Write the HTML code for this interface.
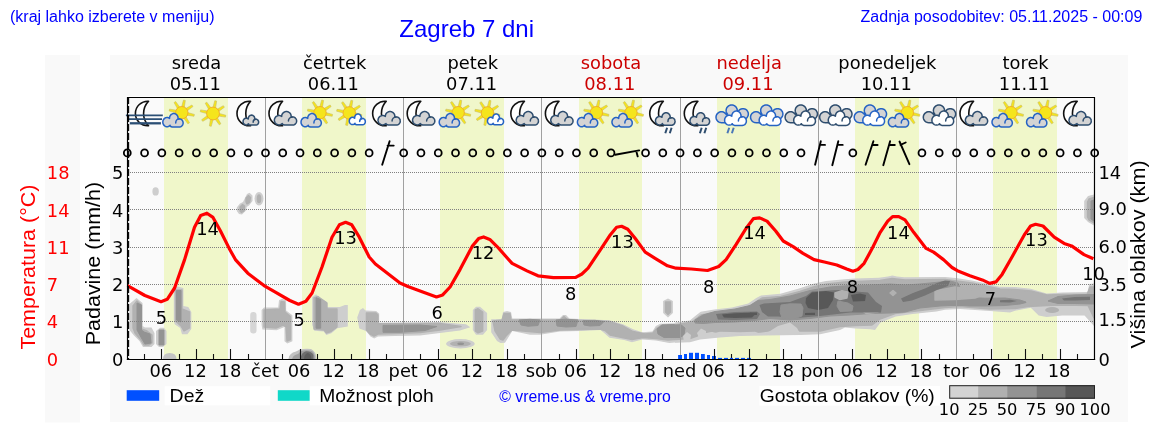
<!DOCTYPE html>
<html><head><meta charset="utf-8"><title>Zagreb 7 dni</title>
<style>
html,body{margin:0;padding:0;background:#fff;width:1152px;height:443px;overflow:hidden}
svg{display:block}
.dj{font-family:"DejaVu Sans",sans-serif;font-size:17px}
.ls{font-family:"Liberation Sans",Arial,sans-serif}
</style></head><body>
<svg width="1152" height="443" viewBox="0 0 1152 443">
<defs><filter id="bl" x="-5%" y="-5%" width="110%" height="110%"><feGaussianBlur stdDeviation="0.45"/></filter></defs>
<g id="bg">
<rect x="45" y="55" width="35" height="367.5" fill="#f9f9f9"/>
<rect x="110" y="55" width="1018" height="367" fill="#f9f9f9"/>
<rect x="126.5" y="96.5" width="969" height="263.5" fill="none" stroke="#fff" stroke-width="1"/>
<rect x="127" y="97" width="967.5" height="262" fill="#fafafa"/>
<rect x="164" y="97.5" width="64" height="261.5" fill="#f0f7ca"/>
<rect x="302" y="97.5" width="64" height="261.5" fill="#f0f7ca"/>
<rect x="440" y="97.5" width="64" height="261.5" fill="#f0f7ca"/>
<rect x="579" y="97.5" width="63" height="261.5" fill="#f0f7ca"/>
<rect x="717" y="97.5" width="63" height="261.5" fill="#f0f7ca"/>
<rect x="855" y="97.5" width="64" height="261.5" fill="#f0f7ca"/>
<rect x="993" y="97.5" width="64" height="261.5" fill="#f0f7ca"/>
</g>
<g id="blobs" filter="url(#bl)">
<ellipse cx="155.6" cy="191.4" rx="3.2" ry="4.2" fill="#cecece"/>
<path d="M236.8,207.5 L240.0,203.5 L243.0,202.0 L247.0,194.0 L249.5,192.8 L252.5,195.5 L252.5,201.0 L249.0,205.5 L246.5,207.0 L246.5,210.0 L242.0,214.6 L239.0,214.0 L236.8,211.0 Z" fill="#cecece"/>
<path d="M240.0,207.0 L242.5,204.5 L244.5,206.0 L244.0,211.0 L241.5,212.5 L240.0,211.0 Z" fill="#b1b1b1" stroke="#b1b1b1" stroke-width="1.4" stroke-linejoin="round"/>
<path d="M246.0,198.0 L248.5,195.5 L250.5,197.5 L249.5,202.5 L247.0,204.0 L246.0,202.0 Z" fill="#b1b1b1" stroke="#b1b1b1" stroke-width="1.4" stroke-linejoin="round"/>
<ellipse cx="259" cy="198.7" rx="4.5" ry="6.8" fill="#cecece"/>
<ellipse cx="259" cy="198.7" rx="2.3" ry="4.5" fill="#b1b1b1"/>
<path d="M129.5,304.0 L136.5,298.0 L142.5,303.0 L142.5,326.0 L145.0,327.5 L151.5,327.5 L154.5,333.0 L154.5,344.0 L151.5,347.0 L143.0,347.0 L139.5,341.0 L134.0,335.5 L129.5,330.0 Z" fill="#cecece"/>
<path d="M133.0,306.0 L137.0,301.0 L141.5,305.0 L141.5,329.0 L147.0,331.0 L152.0,335.0 L152.0,343.0 L149.0,345.0 L144.0,345.0 L141.0,340.0 L135.0,333.0 L133.0,328.0 Z" fill="#b1b1b1" stroke="#b1b1b1" stroke-width="1.4" stroke-linejoin="round"/>
<path d="M137.0,303.0 L141.5,305.0 L141.5,330.0 L144.0,332.0 L150.0,334.0 L151.0,343.0 L145.0,344.0 L142.0,339.0 L137.0,330.0 Z" fill="#939393" stroke="#939393" stroke-width="1.0" stroke-linejoin="round"/>
<path d="M156.0,331.0 L160.0,327.8 L164.0,327.8 L166.5,331.0 L166.5,344.0 L163.0,347.0 L159.0,347.0 L156.0,344.0 Z" fill="#cecece"/>
<path d="M159.0,330.0 L164.0,330.0 L164.0,345.0 L159.0,345.0 Z" fill="#939393" stroke="#939393" stroke-width="1.0" stroke-linejoin="round"/>
<path d="M173.8,289.0 L176.5,286.3 L183.4,288.0 L183.4,306.0 L188.3,307.0 L191.3,312.0 L191.3,329.0 L187.4,334.2 L182.0,334.2 L180.2,328.0 L174.7,324.2 L173.8,320.0 Z" fill="#cecece"/>
<path d="M175.5,290.0 L182.0,290.0 L182.0,309.0 L189.5,312.0 L189.5,328.0 L184.0,331.0 L181.0,326.0 L175.5,321.0 Z" fill="#b1b1b1" stroke="#b1b1b1" stroke-width="1.4" stroke-linejoin="round"/>
<path d="M176.5,290.5 L181.0,290.5 L181.0,322.0 L176.5,320.0 Z" fill="#939393" stroke="#939393" stroke-width="1.0" stroke-linejoin="round"/>
<path d="M163,359 Q163,353 169.7,353 Q176.5,353 176.5,359 Z" fill="#c4c4c4"/>
<rect x="250.2" y="312.1" width="6.3" height="21.3" rx="3" fill="#d6d6d6"/>
<path d="M261.6,310.0 L264.0,307.4 L278.2,307.4 L279.0,300.3 L282.1,298.7 L286.1,300.3 L286.1,310.5 L292.4,315.3 L292.4,341.3 L287.3,343.4 L284.5,341.3 L284.5,327.1 L276.6,330.3 L262.4,329.5 L261.6,325.0 Z" fill="#cecece"/>
<path d="M264.0,310.0 L280.0,309.0 L281.0,301.5 L284.5,302.0 L285.0,312.0 L290.5,316.5 L290.5,339.5 L287.0,341.0 L286.0,327.0 L283.0,325.0 L276.0,328.0 L264.0,327.0 Z" fill="#b1b1b1" stroke="#b1b1b1" stroke-width="1.4" stroke-linejoin="round"/>
<path d="M288.4,359 Q289,353 296,351.5 L300,349.5 Q305,348.3 311,349 Q316,351 316.5,359 Z" fill="#c2c2c2"/>
<path d="M292,359 Q293,355 298,354 L301,351 Q307,349.5 312,351 Q315,353 315,359 Z" fill="#a0a0a0"/>
<path d="M300.5,359 Q301,352.5 306,351.2 Q312,351.5 313.5,355 L313.5,359 Z" fill="#6e6e6e"/>
<path d="M304,359 Q304.5,354 307.5,353 Q311,353.5 311.5,359 Z" fill="#5c5c5c"/>
<path d="M312.2,296.9 L316.1,294.3 L318.6,296.9 L327.1,302.0 L327.1,307.0 L339.8,307.0 L344.9,305.0 L347.8,305.0 L347.8,326.5 L337.3,328.2 L331.4,333.3 L326.3,335.0 L323.7,331.6 L314.4,330.8 L312.2,325.0 Z" fill="#cecece"/>
<path d="M314.0,298.0 L318.0,296.5 L327.0,303.0 L327.0,309.0 L337.0,309.0 L337.0,327.0 L331.0,331.5 L326.5,333.0 L324.0,330.0 L314.0,329.0 Z" fill="#b1b1b1" stroke="#b1b1b1" stroke-width="1.4" stroke-linejoin="round"/>
<path d="M316.1,297.7 L320.7,299.5 L320.7,328.2 L316.1,328.2 Z" fill="#939393" stroke="#939393" stroke-width="1.0" stroke-linejoin="round"/>
<path d="M357.2,317.4 L359.9,309.9 L363.0,308.0 L365.5,310.5 L376.1,311.1 L379.2,313.6 L379.2,323.0 L400.0,322.8 L440.0,322.0 L466.0,324.2 L470.3,327.3 L460.0,330.4 L440.0,332.9 L420.0,335.4 L395.0,336.0 L378.0,336.6 L374.2,338.5 L370.5,336.6 L366.1,331.0 L359.3,328.5 Z" fill="#cecece"/>
<path d="M366.4,313.0 L376.0,313.0 L378.0,315.0 L378.0,323.5 L400.0,323.5 L440.0,323.5 L461.0,326.5 L440.0,330.0 L420.0,332.5 L395.0,333.5 L378.0,334.0 L374.0,336.0 L370.0,334.0 L366.4,330.0 Z" fill="#b1b1b1" stroke="#b1b1b1" stroke-width="1.4" stroke-linejoin="round"/>
<path d="M383.0,325.4 L420.0,325.0 L437.0,326.5 L425.0,330.5 L400.0,332.3 L383.0,332.3 Z" fill="#939393" stroke="#939393" stroke-width="1.0" stroke-linejoin="round"/>
<ellipse cx="460.4" cy="343.7" rx="14.3" ry="4.7" fill="#cecece"/>
<ellipse cx="460.4" cy="343.8" rx="10.5" ry="2.8" fill="#b1b1b1"/>
<ellipse cx="460.7" cy="343.8" rx="3.4" ry="1.3" fill="#939393"/>
<path d="M472.8,310.0 L476.0,306.8 L480.0,306.8 L487.1,313.0 L487.1,330.0 L483.0,334.8 L476.0,334.8 L472.8,330.0 Z" fill="#cecece"/>
<path d="M475.3,310.0 L478.0,308.7 L482.7,312.0 L482.7,331.0 L478.0,332.9 L475.3,331.0 Z" fill="#b1b1b1" stroke="#b1b1b1" stroke-width="1.4" stroke-linejoin="round"/>
<path d="M491.2,319.2 L501.7,319.2 L503.0,312.0 L507.0,311.1 L511.0,312.0 L512.3,318.6 L559.5,318.6 L563.0,315.0 L566.0,314.9 L569.4,318.6 L609.5,320.3 L623.0,324.3 L633.2,329.3 L642.2,332.2 L652.4,331.6 L655.8,326.0 L660.3,323.7 L680.0,323.0 L680.0,342.0 L669.3,342.9 L655.8,340.6 L642.2,339.5 L632.0,342.3 L624.2,340.0 L609.5,337.8 L603.9,332.7 L600.5,330.0 L580.0,331.0 L560.0,331.6 L540.0,334.8 L530.0,334.8 L512.3,331.0 L505.0,342.8 L500.5,343.0 L497.0,341.0 L491.2,332.3 Z" fill="#cecece"/>
<path d="M493.0,321.0 L502.0,320.0 L504.0,313.5 L510.0,313.5 L511.0,320.0 L560.0,320.0 L564.0,316.5 L568.0,320.0 L609.0,321.5 L623.0,326.0 L633.0,331.5 L645.0,334.0 L653.0,333.0 L657.0,328.0 L662.0,325.0 L680.0,325.0 L680.0,339.0 L668.0,340.0 L656.0,338.5 L643.0,337.5 L632.0,339.5 L622.0,337.5 L610.0,335.0 L605.0,330.5 L600.0,329.0 L560.0,330.0 L540.0,332.5 L512.0,330.0 L506.0,336.0 L503.0,340.0 L500.0,339.0 L495.0,331.0 Z" fill="#b1b1b1" stroke="#b1b1b1" stroke-width="1.4" stroke-linejoin="round"/>
<path d="M519.0,320.0 L530.0,319.3 L540.0,320.0 L538.0,325.5 L528.0,326.2 L521.0,325.0 Z" fill="#939393" stroke="#939393" stroke-width="1.0" stroke-linejoin="round"/>
<path d="M556.0,320.0 L566.0,319.2 L578.0,320.0 L576.0,326.5 L566.0,327.0 L557.0,326.0 Z" fill="#939393" stroke="#939393" stroke-width="1.0" stroke-linejoin="round"/>
<path d="M583.0,320.5 L595.0,320.3 L604.0,321.5 L600.0,325.5 L590.0,326.0 L584.0,325.0 Z" fill="#939393" stroke="#939393" stroke-width="1.0" stroke-linejoin="round"/>
<path d="M657.0,329.0 L662.0,325.0 L681.0,324.5 L685.0,328.0 L684.0,335.0 L680.0,337.5 L664.0,337.5 L658.0,334.0 Z" fill="#939393" stroke="#939393" stroke-width="1.0" stroke-linejoin="round"/>
<path d="M663.1,301.0 L668.0,298.5 L672.9,301.0 L672.9,313.0 L668.0,317.5 L663.1,313.0 Z" fill="#cecece"/>
<path d="M665.5,302.0 L670.5,302.0 L670.5,312.0 L668.0,314.5 L665.5,312.0 Z" fill="#b1b1b1" stroke="#b1b1b1" stroke-width="1.4" stroke-linejoin="round"/>
<path d="M675.0,322.5 L689.9,320.5 L694.0,317.1 L700.7,311.7 L714.3,309.6 L731.9,307.6 L748.2,303.6 L756.3,298.1 L761.0,295.4 L780.4,293.7 L799.0,288.6 L814.2,283.5 L826.0,281.0 L844.7,279.3 L855.0,278.5 L878.8,277.7 L888.0,276.5 L892.4,275.5 L897.0,276.5 L904.2,277.2 L945.0,276.9 L955.8,277.9 L972.0,280.6 L988.3,283.9 L999.1,286.7 L1015.0,287.1 L1030.8,288.7 L1046.6,293.4 L1062.4,292.6 L1087.7,291.9 L1089.2,284.0 L1094.0,283.5 L1094.0,326.0 L1084.5,315.6 L1062.4,315.6 L1046.6,317.1 L1038.7,315.6 L1030.8,307.7 L1015.0,310.8 L1010.0,312.4 L990.0,311.0 L960.0,309.0 L945.0,309.7 L936.4,311.5 L912.7,314.0 L895.8,316.6 L880.5,322.5 L875.0,330.0 L870.4,329.3 L855.0,328.4 L845.0,327.6 L840.0,330.0 L820.0,334.3 L800.0,335.1 L765.0,335.4 L740.0,336.0 L720.0,337.4 L700.0,339.5 L690.0,342.2 L675.0,342.8 Z" fill="#cecece"/>
<path d="M675.0,325.0 L692.0,322.0 L701.0,315.0 L715.0,312.5 L732.0,310.5 L749.0,306.5 L757.0,301.0 L762.0,298.0 L781.0,296.5 L800.0,291.5 L815.0,286.5 L827.0,284.0 L845.0,282.0 L880.0,280.5 L892.0,278.5 L905.0,280.0 L945.0,279.5 L972.0,283.0 L988.0,286.5 L1000.0,289.0 L1015.0,289.5 L1031.0,291.0 L1047.0,295.0 L1063.0,294.5 L1087.0,294.5 L1090.0,287.0 L1094.0,287.0 L1094.0,318.0 L1088.0,305.5 L1063.0,305.0 L1047.0,305.5 L1038.0,306.0 L1028.0,306.5 L1015.0,308.5 L990.0,309.0 L960.0,306.5 L945.0,307.5 L912.0,311.5 L895.0,313.5 L880.0,319.0 L872.0,325.0 L855.0,325.5 L840.0,326.5 L820.0,331.0 L800.0,331.0 L790.0,326.0 L775.0,330.0 L760.0,332.0 L740.0,333.5 L722.0,334.0 L712.0,331.0 L703.0,333.0 L697.0,336.0 L690.0,338.5 L675.0,339.5 Z" fill="#b1b1b1" stroke="#b1b1b1" stroke-width="1.4" stroke-linejoin="round"/>
<path d="M667.0,325.3 L681.0,324.8 L685.0,328.0 L684.0,335.0 L680.0,337.5 L667.0,337.5 Z" fill="#939393" stroke="#939393" stroke-width="1.0" stroke-linejoin="round"/>
<path d="M695.0,320.0 L703.0,315.0 L715.0,311.5 L735.0,309.0 L750.0,305.5 L758.0,300.5 L770.0,299.5 L790.0,296.0 L810.0,290.5 L830.0,287.0 L850.0,285.5 L870.0,285.0 L890.0,284.0 L905.0,285.0 L920.0,284.0 L940.0,282.0 L950.0,281.0 L958.0,283.0 L962.0,292.0 L970.0,297.5 L985.0,298.2 L1005.0,298.0 L1020.0,300.0 L1026.0,302.0 L1026.0,302.5 L1020.0,304.0 L1005.0,305.5 L985.0,306.0 L970.0,306.0 L962.0,305.5 L958.0,305.5 L950.0,305.5 L940.0,306.0 L920.0,308.0 L905.0,312.0 L890.0,313.0 L870.0,313.5 L850.0,315.0 L830.0,316.0 L810.0,318.5 L790.0,320.0 L770.0,318.5 L758.0,320.0 L750.0,321.0 L735.0,322.0 L715.0,322.5 L703.0,323.5 L695.0,323.0 Z" fill="#939393" stroke="#939393" stroke-width="1.0" stroke-linejoin="round"/>
<path d="M781.0,305.0 L790.0,303.5 L800.0,304.0 L803.0,309.0 L800.0,316.0 L790.0,317.5 L782.0,314.0 Z" fill="#b1b1b1" stroke="#b1b1b1" stroke-width="1.4" stroke-linejoin="round"/>
<path d="M860.0,306.0 L870.0,304.5 L880.0,307.0 L878.0,312.0 L866.0,313.5 L861.0,310.0 Z" fill="#b1b1b1" stroke="#b1b1b1" stroke-width="1.4" stroke-linejoin="round"/>
<path d="M893.0,290.5 L896.0,293.0 L893.0,295.5 L890.0,293.0 Z" fill="#b1b1b1" stroke="#b1b1b1" stroke-width="1.4" stroke-linejoin="round"/>
<path d="M935.0,291.0 L955.0,287.0 L975.0,290.0 L985.0,294.0 L975.0,298.0 L955.0,299.5 L935.0,300.0 Z" fill="#b1b1b1" stroke="#b1b1b1" stroke-width="1.4" stroke-linejoin="round"/>
<path d="M766.0,333.5 L778.0,326.0 L790.0,322.5 L797.0,328.0 L800.0,333.5 Z" fill="#cecece"/>
<path d="M683.0,336.0 L687.0,332.0 L691.0,335.0 L690.0,342.0 L684.0,342.0 Z" fill="#cecece"/>
<path d="M697.0,333.0 L701.0,328.5 L706.0,331.0 L706.0,337.0 L699.0,338.0 Z" fill="#cecece"/>
<path d="M712.0,333.5 L720.0,331.8 L740.0,332.2 L755.0,331.8 L760.0,333.5 L740.0,334.8 L720.0,335.2 Z" fill="#cecece"/>
<path d="M716.0,314.0 L735.0,312.0 L757.0,311.5 L760.0,314.0 L757.0,319.0 L735.0,320.0 L718.0,319.5 Z" fill="#747474"/>
<path d="M759.5,305.0 L764.0,303.5 L790.0,302.0 L806.0,296.0 L812.0,291.5 L838.0,290.0 L868.0,292.5 L876.0,302.0 L882.0,306.0 L881.0,312.5 L850.0,312.5 L820.0,316.0 L796.0,318.0 L778.0,316.5 L768.0,316.5 L762.0,312.0 Z" fill="#747474"/>
<path d="M781.0,305.0 L790.0,303.8 L801.0,304.0 L803.0,308.0 L802.0,316.0 L795.0,318.5 L782.0,318.0 L780.0,312.0 Z" fill="#939393" stroke="#939393" stroke-width="1.0" stroke-linejoin="round"/>
<path d="M838.0,301.0 L848.0,303.0 L853.0,306.0 L852.0,311.0 L840.0,311.5 L837.0,306.0 Z" fill="#939393" stroke="#939393" stroke-width="1.0" stroke-linejoin="round"/>
<path d="M835.0,293.0 L842.0,290.6 L848.0,292.0 L847.0,298.0 L840.0,299.5 L835.0,297.0 Z" fill="#b1b1b1" stroke="#b1b1b1" stroke-width="1.4" stroke-linejoin="round"/>
<path d="M901.0,298.5 L913.0,293.0 L925.0,288.5 L937.0,283.0 L945.0,280.5 L950.0,281.0 L948.0,286.0 L937.0,290.0 L925.0,295.5 L912.0,300.5 L903.0,302.0 Z" fill="#747474"/>
<path d="M1048.0,301.0 L1058.0,296.5 L1075.0,295.0 L1094.0,294.5 L1094.0,304.0 L1075.0,303.5 L1058.0,303.5 Z" fill="#939393" stroke="#939393" stroke-width="1.0" stroke-linejoin="round"/>
<path d="M1062.0,298.5 L1075.0,297.0 L1090.0,296.8 L1090.0,300.0 L1075.0,300.5 L1064.0,300.5 Z" fill="#747474"/>
<path d="M1000.0,300.2 L1010.0,299.8 L1017.0,301.0 L1010.0,302.5 L1000.0,302.3 Z" fill="#747474"/>
<path d="M722.0,314.5 L735.0,313.2 L750.0,312.8 L756.0,313.5 L752.0,317.5 L735.0,318.0 L724.0,317.5 Z" fill="#585858"/>
<path d="M806.0,298.0 L812.0,292.5 L826.0,291.0 L834.0,292.5 L833.0,300.0 L828.0,308.0 L818.0,310.0 L808.0,308.0 L805.5,303.0 Z" fill="#585858"/>
<path d="M851.0,295.0 L860.0,293.5 L866.0,295.0 L865.0,301.0 L853.0,301.5 Z" fill="#585858"/>
<path d="M805.0,313.0 L815.0,312.8 L815.0,315.0 L805.0,315.0 Z" fill="#585858"/>
<path d="M750.0,312.5 L757.0,312.5 L757.0,315.0 L750.0,315.0 Z" fill="#585858"/>
<ellipse cx="1052.1" cy="310" rx="7" ry="3" fill="#b1b1b1"/>
<path d="M1088.0,196.0 L1094.0,194.5 L1094.0,225.5 L1088.0,222.0 L1084.2,218.0 L1084.2,201.0 Z" fill="#cecece"/>
<path d="M1089.0,199.0 L1094.0,197.5 L1094.0,223.0 L1089.0,220.0 L1087.5,217.0 L1087.5,202.0 Z" fill="#b1b1b1" stroke="#b1b1b1" stroke-width="1.4" stroke-linejoin="round"/>
<path d="M1091.0,201.0 L1094.0,200.0 L1094.0,221.0 L1091.0,219.0 Z" fill="#939393" stroke="#939393" stroke-width="1.0" stroke-linejoin="round"/>
</g>
<g id="grid">
<line x1="128" y1="321.5" x2="1094" y2="321.5" stroke="#808080" stroke-width="1" stroke-dasharray="1 1"/>
<line x1="128" y1="284.5" x2="1094" y2="284.5" stroke="#808080" stroke-width="1" stroke-dasharray="1 1"/>
<line x1="128" y1="247.5" x2="1094" y2="247.5" stroke="#808080" stroke-width="1" stroke-dasharray="1 1"/>
<line x1="128" y1="209.5" x2="1094" y2="209.5" stroke="#808080" stroke-width="1" stroke-dasharray="1 1"/>
<line x1="128" y1="172.5" x2="1094" y2="172.5" stroke="#808080" stroke-width="1" stroke-dasharray="1 1"/>
<line x1="265.5" y1="97" x2="265.5" y2="359" stroke="#a0a0a0" stroke-width="1"/>
<line x1="403.5" y1="97" x2="403.5" y2="359" stroke="#a0a0a0" stroke-width="1"/>
<line x1="541.5" y1="97" x2="541.5" y2="359" stroke="#a0a0a0" stroke-width="1"/>
<line x1="680.5" y1="97" x2="680.5" y2="359" stroke="#a0a0a0" stroke-width="1"/>
<line x1="818.5" y1="97" x2="818.5" y2="359" stroke="#a0a0a0" stroke-width="1"/>
<line x1="956.5" y1="97" x2="956.5" y2="359" stroke="#a0a0a0" stroke-width="1"/>
</g>
<g id="minor">
<line x1="144.5" y1="354" x2="144.5" y2="359" stroke="#111" stroke-width="1.1"/>
<line x1="179.5" y1="354" x2="179.5" y2="359" stroke="#111" stroke-width="1.1"/>
<line x1="213.5" y1="354" x2="213.5" y2="359" stroke="#111" stroke-width="1.1"/>
<line x1="248.5" y1="354" x2="248.5" y2="359" stroke="#111" stroke-width="1.1"/>
<line x1="282.5" y1="354" x2="282.5" y2="359" stroke="#111" stroke-width="1.1"/>
<line x1="317.5" y1="354" x2="317.5" y2="359" stroke="#111" stroke-width="1.1"/>
<line x1="351.5" y1="354" x2="351.5" y2="359" stroke="#111" stroke-width="1.1"/>
<line x1="386.5" y1="354" x2="386.5" y2="359" stroke="#111" stroke-width="1.1"/>
<line x1="420.5" y1="354" x2="420.5" y2="359" stroke="#111" stroke-width="1.1"/>
<line x1="455.5" y1="354" x2="455.5" y2="359" stroke="#111" stroke-width="1.1"/>
<line x1="490.5" y1="354" x2="490.5" y2="359" stroke="#111" stroke-width="1.1"/>
<line x1="524.5" y1="354" x2="524.5" y2="359" stroke="#111" stroke-width="1.1"/>
<line x1="559.5" y1="354" x2="559.5" y2="359" stroke="#111" stroke-width="1.1"/>
<line x1="593.5" y1="354" x2="593.5" y2="359" stroke="#111" stroke-width="1.1"/>
<line x1="628.5" y1="354" x2="628.5" y2="359" stroke="#111" stroke-width="1.1"/>
<line x1="662.5" y1="354" x2="662.5" y2="359" stroke="#111" stroke-width="1.1"/>
<line x1="697.5" y1="354" x2="697.5" y2="359" stroke="#111" stroke-width="1.1"/>
<line x1="731.5" y1="354" x2="731.5" y2="359" stroke="#111" stroke-width="1.1"/>
<line x1="766.5" y1="354" x2="766.5" y2="359" stroke="#111" stroke-width="1.1"/>
<line x1="801.5" y1="354" x2="801.5" y2="359" stroke="#111" stroke-width="1.1"/>
<line x1="835.5" y1="354" x2="835.5" y2="359" stroke="#111" stroke-width="1.1"/>
<line x1="870.5" y1="354" x2="870.5" y2="359" stroke="#111" stroke-width="1.1"/>
<line x1="904.5" y1="354" x2="904.5" y2="359" stroke="#111" stroke-width="1.1"/>
<line x1="939.5" y1="354" x2="939.5" y2="359" stroke="#111" stroke-width="1.1"/>
<line x1="973.5" y1="354" x2="973.5" y2="359" stroke="#111" stroke-width="1.1"/>
<line x1="1008.5" y1="354" x2="1008.5" y2="359" stroke="#111" stroke-width="1.1"/>
<line x1="1042.5" y1="354" x2="1042.5" y2="359" stroke="#111" stroke-width="1.1"/>
<line x1="1077.5" y1="354" x2="1077.5" y2="359" stroke="#111" stroke-width="1.1"/>
</g>
<g id="bars">
<rect x="678.1" y="355" width="3.9" height="4.0" fill="#0050ff"/>
<rect x="684" y="354" width="3.0" height="5.0" fill="#0050ff"/>
<rect x="689" y="352.8" width="4.0" height="6.2" fill="#0050ff"/>
<rect x="695" y="352.8" width="4.0" height="6.2" fill="#0050ff"/>
<rect x="701" y="354" width="3.8" height="5.0" fill="#0050ff"/>
<rect x="707" y="355" width="3.0" height="4.0" fill="#0050ff"/>
<rect x="712" y="356" width="4.0" height="3.0" fill="#0050ff"/>
<rect x="718" y="357.9" width="4.0" height="1.1" fill="#0050ff"/>
<rect x="724" y="357.9" width="4.0" height="1.1" fill="#0050ff"/>
<rect x="730" y="357.9" width="3.0" height="1.1" fill="#0050ff"/>
<rect x="735" y="357.9" width="4.0" height="1.1" fill="#0050ff"/>
<rect x="741" y="357.9" width="4.0" height="1.1" fill="#0050ff"/>
<rect x="747" y="357.9" width="4.0" height="1.1" fill="#0050ff"/>
</g>
<g id="temp">
<path d="M127.5,285.6 L144.9,295.5 L161.0,301.7 L167.2,299.3 L174.6,288.0 L184.6,259.6 L194.5,227.3 L200.7,215.4 L206.9,213.2 L213.0,217.4 L220.5,231.0 L229.2,248.4 L235.4,259.6 L247.8,273.2 L264.0,285.6 L274.9,291.8 L289.8,300.5 L298.5,304.2 L305.9,301.2 L312.1,293.0 L322.0,267.0 L332.0,237.2 L339.4,224.8 L345.6,222.3 L351.8,224.8 L359.3,237.2 L369.2,257.0 L375.4,264.0 L389.0,274.4 L400.0,283.0 L407.9,286.5 L422.8,292.0 L436.5,296.9 L442.7,294.9 L450.1,287.0 L460.0,269.6 L472.4,246.0 L478.6,238.6 L483.6,236.9 L489.8,239.4 L497.3,246.8 L512.1,263.4 L527.0,270.9 L538.0,275.8 L553.4,277.7 L575.7,277.4 L581.9,274.0 L588.1,268.2 L600.5,249.6 L610.4,234.7 L616.6,227.3 L621.6,226.3 L627.8,229.3 L635.3,238.5 L645.2,252.1 L655.1,258.3 L667.5,265.8 L676.0,268.2 L691.4,269.0 L707.5,270.5 L718.7,266.5 L726.1,259.6 L736.0,244.7 L746.0,228.5 L753.4,218.6 L759.6,217.9 L767.0,221.1 L775.7,231.0 L783.2,241.0 L793.1,246.7 L803.0,253.3 L814.0,259.6 L824.4,262.0 L836.8,265.0 L846.7,269.0 L852.9,271.2 L857.9,269.5 L864.1,263.3 L871.6,249.6 L880.2,232.3 L887.7,221.1 L892.6,216.6 L898.8,216.6 L905.0,219.9 L913.7,232.3 L926.1,248.4 L933.6,252.1 L943.5,259.6 L952.0,267.5 L957.4,270.7 L969.9,275.7 L982.3,279.9 L989.7,283.4 L995.9,281.9 L1002.1,274.4 L1012.0,257.0 L1024.4,234.7 L1030.6,226.0 L1035.6,224.3 L1043.0,226.0 L1054.2,237.2 L1064.1,243.4 L1071.6,245.9 L1084.0,254.6 L1093.4,258.8" fill="none" stroke="#ff0000" stroke-width="3.2" stroke-linejoin="round" stroke-linecap="butt"/>
</g>
<g id="tl">
<text transform="translate(161.5,323.6) scale(1.05,1)" text-anchor="middle" class="dj">5</text>
<text transform="translate(207.5,234.6) scale(1.05,1)" text-anchor="middle" class="dj">14</text>
<text transform="translate(299.3,325.7) scale(1.05,1)" text-anchor="middle" class="dj">5</text>
<text transform="translate(345.5,243.8) scale(1.05,1)" text-anchor="middle" class="dj">13</text>
<text transform="translate(437.2,319.0) scale(1.05,1)" text-anchor="middle" class="dj">6</text>
<text transform="translate(483.1,259.0) scale(1.05,1)" text-anchor="middle" class="dj">12</text>
<text transform="translate(570.7,300.0) scale(1.05,1)" text-anchor="middle" class="dj">8</text>
<text transform="translate(622.4,248.0) scale(1.05,1)" text-anchor="middle" class="dj">13</text>
<text transform="translate(708.7,292.5) scale(1.05,1)" text-anchor="middle" class="dj">8</text>
<text transform="translate(754.6,239.0) scale(1.05,1)" text-anchor="middle" class="dj">14</text>
<text transform="translate(852.4,293.0) scale(1.05,1)" text-anchor="middle" class="dj">8</text>
<text transform="translate(898.4,238.5) scale(1.05,1)" text-anchor="middle" class="dj">14</text>
<text transform="translate(990.4,304.9) scale(1.05,1)" text-anchor="middle" class="dj">7</text>
<text transform="translate(1036.4,246.0) scale(1.05,1)" text-anchor="middle" class="dj">13</text>
<text transform="translate(1093.5,280.0) scale(1.05,1)" text-anchor="middle" class="dj">10</text>
</g>
<g id="icons">
<path d="M148.56,101.23 A12.3,12.3 0 1 0 148.56,125.77 A17.6,17.6 0 0 1 148.56,101.23 Z" fill="#fff" stroke="#111" stroke-width="1.6" stroke-linejoin="round"/>
<path d="M125.9,115.4 H162.8 M128.2,119.1 H162" stroke="#2b4f75" stroke-width="1.6" fill="none"/>
<path d="M129.8,123.3 H160.9" stroke="#2b4f75" stroke-width="2.3" fill="none"/>
<path d="M187.07,115.21 L194.00,116.27 L194.39,114.41 L187.63,112.56ZM183.75,118.22 L187.90,123.87 L189.49,122.83 L186.01,116.75ZM179.27,117.99 L178.21,124.92 L180.06,125.32 L181.91,118.56ZM176.26,114.67 L170.61,118.82 L171.64,120.41 L177.73,116.94ZM176.48,110.19 L169.55,109.13 L169.16,110.99 L175.92,112.84ZM179.80,107.18 L175.65,101.53 L174.06,102.57 L177.54,108.65ZM184.28,107.41 L185.34,100.48 L183.49,100.08 L181.64,106.84ZM187.29,110.73 L192.94,106.58 L191.91,104.99 L185.82,108.46Z" fill="#f5e51c" stroke="#c8bc66" stroke-width="0.6" stroke-linejoin="round"/>
<circle cx="181.775" cy="112.7" r="6.20" fill="#f5e51c" stroke="#f2aa25" stroke-width="0.9"/>
<path d="M177.9,116.8 L177.6,116.1 L177.3,115.5 L176.8,114.9 L176.3,114.4 L175.8,114.1 L175.1,113.8 L174.5,113.6 L173.8,113.5 L173.1,113.6 L172.5,113.8 L171.9,114.1 L171.3,114.4 L170.8,114.9 L170.3,115.5 L170.0,116.1 L169.7,116.8 L169.6,117.5 L169.5,118.3 L169.5,118.4 L169.5,118.4 L168.9,118.0 L168.3,117.7 L167.7,117.6 L167.0,117.5 L166.4,117.6 L165.7,117.7 L165.1,118.0 L164.6,118.4 L164.1,118.9 L163.6,119.4 L163.3,120.0 L163.0,120.7 L162.9,121.4 L162.8,122.1 L162.9,122.9 L163.0,123.6 L163.3,124.2 L163.6,124.8 L164.1,125.4 L164.6,125.9 L165.1,126.2 L165.7,126.5 L166.4,126.7 L167.0,126.8 L167.7,126.7 L168.3,126.5 L168.9,126.2 L169.5,125.9 L170.0,125.4 L170.1,125.3 L170.1,126.2 L172.1,127.0 L178.8,127.0 L179.4,127.0 L180.0,126.9 L180.5,126.8 L181.1,126.6 L181.6,126.2 L182.0,125.8 L182.4,125.3 L182.7,124.8 L182.9,124.2 L183.1,123.6 L183.1,122.9 L183.1,122.3 L182.9,121.7 L182.7,121.1 L182.4,120.5 L182.0,120.1 L181.6,119.6 L181.1,119.3 L180.5,119.1 L180.0,118.9 L179.4,118.9 L178.8,118.9 L178.3,119.1 L178.0,119.2 L178.0,119.0 L178.1,118.3 L178.0,117.5Z" fill="#d4d4d4" stroke="#2563c4" stroke-width="1.5" stroke-linejoin="round"/>
<path d="M175.71,122.93 A3.69,4.07 0 0 1 179.27,118.87" fill="none" stroke="#2563c4" stroke-width="1.5" stroke-linecap="round"/>
<path d="M218.52,116.05 L225.45,117.11 L225.84,115.25 L219.08,113.41ZM215.11,119.18 L219.25,124.84 L220.85,123.80 L217.37,117.71ZM210.48,118.99 L209.41,125.92 L211.27,126.32 L213.12,119.55ZM207.34,115.58 L201.69,119.73 L202.72,121.32 L208.81,117.85ZM207.53,110.95 L200.60,109.89 L200.21,111.75 L206.97,113.59ZM210.94,107.82 L206.80,102.16 L205.20,103.20 L208.68,109.29ZM215.57,108.01 L216.64,101.08 L214.78,100.68 L212.93,107.45ZM218.71,111.42 L224.36,107.27 L223.33,105.68 L217.24,109.15Z" fill="#f5e51c" stroke="#c8bc66" stroke-width="0.6" stroke-linejoin="round"/>
<circle cx="213.025" cy="113.5" r="6.40" fill="#f5e51c" stroke="#f2aa25" stroke-width="0.9"/>
<path d="M250.60,101.27 A12.3,12.3 0 1 0 250.60,125.73 A17.9,17.9 0 0 1 250.60,101.27 Z" fill="#fff" stroke="#111" stroke-width="1.6" stroke-linejoin="round"/>
<path d="M254.6,117.5 L254.4,117.0 L254.1,116.5 L253.8,116.1 L253.4,115.8 L253.0,115.5 L252.5,115.3 L252.0,115.2 L251.5,115.1 L251.0,115.2 L250.5,115.3 L250.1,115.5 L249.6,115.8 L249.2,116.1 L248.9,116.5 L248.7,117.0 L248.5,117.5 L248.3,118.0 L248.3,118.6 L248.3,119.1 L248.0,118.8 L247.6,118.5 L247.2,118.3 L246.7,118.2 L246.2,118.2 L245.7,118.2 L245.2,118.3 L244.8,118.5 L244.3,118.8 L244.0,119.2 L243.7,119.6 L243.4,120.0 L243.2,120.5 L243.1,121.0 L243.1,121.5 L243.1,122.1 L243.2,122.6 L243.4,123.1 L243.7,123.5 L244.0,123.9 L244.3,124.3 L244.8,124.5 L245.2,124.7 L245.7,124.9 L246.2,124.9 L246.7,124.9 L247.2,124.7 L247.6,124.5 L248.0,124.3 L248.4,123.9 L248.6,123.7 L248.6,124.7 L250.1,125.0 L255.5,125.0 L255.5,125.1 L255.9,125.1 L256.3,125.1 L256.8,124.9 L257.1,124.8 L257.5,124.5 L257.8,124.2 L258.1,123.9 L258.3,123.5 L258.5,123.1 L258.6,122.6 L258.6,122.1 L258.6,121.7 L258.5,121.2 L258.3,120.8 L258.1,120.4 L257.8,120.1 L257.5,119.8 L257.1,119.5 L256.8,119.3 L256.3,119.2 L255.9,119.2 L255.5,119.2 L255.1,119.3 L254.7,119.5 L254.6,119.6 L254.7,119.1 L254.7,118.6 L254.7,118.0Z" fill="#d4d4d4" stroke="#2e4d6e" stroke-width="1.5" stroke-linejoin="round"/>
<path d="M253.16,122.14 A2.74,2.94 0 0 1 255.81,119.20" fill="none" stroke="#2e4d6e" stroke-width="1.5" stroke-linecap="round"/>
<path d="M282.60,101.27 A12.3,12.3 0 1 0 282.60,125.73 A17.9,17.9 0 0 1 282.60,101.27 Z" fill="#fff" stroke="#111" stroke-width="1.6" stroke-linejoin="round"/>
<path d="M290.9,114.8 L290.7,114.1 L290.3,113.5 L289.8,112.9 L289.2,112.5 L288.6,112.1 L287.9,111.8 L287.2,111.6 L286.4,111.5 L285.7,111.6 L285.0,111.8 L284.3,112.1 L283.6,112.5 L283.1,112.9 L282.6,113.5 L282.2,114.1 L281.9,114.8 L281.7,115.6 L281.7,116.3 L281.7,116.4 L281.1,116.1 L280.5,115.8 L279.8,115.6 L279.0,115.5 L278.3,115.6 L277.6,115.8 L276.9,116.1 L276.3,116.4 L275.7,116.9 L275.3,117.5 L274.9,118.1 L274.6,118.8 L274.4,119.5 L274.4,120.2 L274.4,120.9 L274.6,121.6 L274.9,122.3 L275.3,122.9 L275.7,123.5 L276.3,124.0 L276.9,124.3 L277.6,124.6 L278.3,124.8 L279.0,124.9 L279.8,124.8 L280.5,124.6 L281.1,124.3 L281.8,124.0 L282.3,123.5 L282.3,123.5 L282.3,124.3 L284.5,125.0 L291.9,125.0 L292.5,125.1 L293.2,125.0 L293.8,124.9 L294.4,124.7 L294.9,124.3 L295.4,123.9 L295.8,123.4 L296.2,122.9 L296.4,122.3 L296.6,121.6 L296.6,121.0 L296.6,120.4 L296.4,119.7 L296.2,119.1 L295.8,118.6 L295.4,118.1 L294.9,117.7 L294.4,117.3 L293.8,117.1 L293.2,117.0 L292.5,116.9 L291.9,117.0 L291.3,117.1 L291.1,117.2 L291.1,117.0 L291.2,116.3 L291.1,115.6Z" fill="#d4d4d4" stroke="#2e4d6e" stroke-width="1.5" stroke-linejoin="round"/>
<path d="M288.42,121.00 A4.10,4.10 0 0 1 292.38,116.90" fill="none" stroke="#2e4d6e" stroke-width="1.5" stroke-linecap="round"/>
<path d="M325.27,115.21 L332.20,116.27 L332.59,114.41 L325.83,112.56ZM321.95,118.22 L326.10,123.87 L327.69,122.83 L324.21,116.75ZM317.47,117.99 L316.41,124.92 L318.26,125.32 L320.11,118.56ZM314.46,114.67 L308.81,118.82 L309.84,120.41 L315.93,116.94ZM314.68,110.19 L307.75,109.13 L307.36,110.99 L314.12,112.84ZM318.00,107.18 L313.85,101.53 L312.26,102.57 L315.74,108.65ZM322.48,107.41 L323.54,100.48 L321.69,100.08 L319.84,106.84ZM325.49,110.73 L331.14,106.58 L330.11,104.99 L324.02,108.46Z" fill="#f5e51c" stroke="#c8bc66" stroke-width="0.6" stroke-linejoin="round"/>
<circle cx="319.97499999999997" cy="112.7" r="6.20" fill="#f5e51c" stroke="#f2aa25" stroke-width="0.9"/>
<path d="M316.1,116.8 L315.8,116.1 L315.5,115.5 L315.0,114.9 L314.5,114.4 L314.0,114.1 L313.3,113.8 L312.7,113.6 L312.0,113.5 L311.3,113.6 L310.7,113.8 L310.1,114.1 L309.5,114.4 L309.0,114.9 L308.5,115.5 L308.2,116.1 L307.9,116.8 L307.8,117.5 L307.7,118.3 L307.7,118.4 L307.7,118.4 L307.1,118.0 L306.5,117.7 L305.9,117.6 L305.2,117.5 L304.6,117.6 L303.9,117.7 L303.3,118.0 L302.8,118.4 L302.3,118.9 L301.8,119.4 L301.5,120.0 L301.2,120.7 L301.1,121.4 L301.0,122.1 L301.1,122.9 L301.2,123.6 L301.5,124.2 L301.8,124.8 L302.3,125.4 L302.8,125.9 L303.3,126.2 L303.9,126.5 L304.6,126.7 L305.2,126.8 L305.9,126.7 L306.5,126.5 L307.1,126.2 L307.7,125.9 L308.2,125.4 L308.3,125.3 L308.3,126.2 L310.3,127.0 L317.0,127.0 L317.6,127.0 L318.2,126.9 L318.7,126.8 L319.3,126.6 L319.8,126.2 L320.2,125.8 L320.6,125.3 L320.9,124.8 L321.1,124.2 L321.3,123.6 L321.3,122.9 L321.3,122.3 L321.1,121.7 L320.9,121.1 L320.6,120.5 L320.2,120.1 L319.8,119.6 L319.3,119.3 L318.7,119.1 L318.2,118.9 L317.6,118.9 L317.0,118.9 L316.5,119.1 L316.2,119.2 L316.2,119.0 L316.3,118.3 L316.2,117.5Z" fill="#d4d4d4" stroke="#2563c4" stroke-width="1.5" stroke-linejoin="round"/>
<path d="M313.91,122.93 A3.69,4.07 0 0 1 317.47,118.87" fill="none" stroke="#2563c4" stroke-width="1.5" stroke-linecap="round"/>
<path d="M354.52,115.41 L361.45,116.47 L361.84,114.61 L355.08,112.76ZM351.20,118.42 L355.35,124.07 L356.94,123.03 L353.46,116.95ZM346.72,118.19 L345.66,125.12 L347.51,125.52 L349.36,118.76ZM343.71,114.87 L338.06,119.02 L339.09,120.61 L345.18,117.14ZM343.93,110.39 L337.00,109.33 L336.61,111.19 L343.37,113.04ZM347.25,107.38 L343.10,101.73 L341.51,102.77 L344.99,108.85ZM351.73,107.61 L352.79,100.68 L350.94,100.28 L349.09,107.04ZM354.74,110.93 L360.39,106.78 L359.36,105.19 L353.27,108.66Z" fill="#f5e51c" stroke="#c8bc66" stroke-width="0.6" stroke-linejoin="round"/>
<circle cx="349.225" cy="112.9" r="6.20" fill="#f5e51c" stroke="#f2aa25" stroke-width="0.9"/>
<path d="M361.1,116.6 L360.9,116.1 L360.6,115.6 L360.3,115.1 L359.9,114.7 L359.5,114.4 L359.0,114.2 L358.5,114.1 L358.0,114.0 L357.5,114.1 L357.0,114.2 L356.5,114.4 L356.0,114.7 L355.6,115.1 L355.3,115.6 L355.0,116.1 L354.8,116.6 L354.7,117.2 L354.7,117.8 L354.7,118.3 L354.4,118.0 L354.0,117.7 L353.5,117.5 L353.0,117.3 L352.5,117.3 L352.0,117.3 L351.5,117.5 L351.1,117.7 L350.6,118.0 L350.2,118.4 L349.9,118.8 L349.7,119.3 L349.5,119.8 L349.3,120.4 L349.3,120.9 L349.3,121.5 L349.5,122.1 L349.7,122.6 L349.9,123.1 L350.2,123.5 L350.6,123.9 L351.1,124.2 L351.5,124.4 L352.0,124.5 L352.5,124.6 L353.0,124.5 L353.5,124.4 L354.0,124.2 L354.4,123.9 L354.8,123.5 L355.0,123.3 L355.0,124.3 L356.6,124.8 L362.0,124.8 L362.0,124.8 L362.5,124.8 L362.9,124.8 L363.3,124.6 L363.8,124.4 L364.1,124.2 L364.5,123.9 L364.8,123.5 L365.0,123.0 L365.2,122.6 L365.3,122.1 L365.3,121.6 L365.3,121.1 L365.2,120.6 L365.0,120.1 L364.8,119.7 L364.5,119.3 L364.1,119.0 L363.8,118.7 L363.3,118.5 L362.9,118.4 L362.5,118.4 L362.0,118.4 L361.6,118.5 L361.2,118.7 L361.1,118.8 L361.2,118.3 L361.3,117.8 L361.2,117.2Z" fill="#ffffff" stroke="#2563c4" stroke-width="1.5" stroke-linejoin="round"/>
<path d="M359.65,121.59 A2.82,3.20 0 0 1 362.37,118.39" fill="none" stroke="#2563c4" stroke-width="1.5" stroke-linecap="round"/>
<path d="M386.25,101.27 A12.3,12.3 0 1 0 386.25,125.73 A17.9,17.9 0 0 1 386.25,101.27 Z" fill="#fff" stroke="#111" stroke-width="1.6" stroke-linejoin="round"/>
<path d="M394.6,114.8 L394.3,114.1 L393.9,113.5 L393.4,112.9 L392.9,112.5 L392.2,112.1 L391.5,111.8 L390.8,111.6 L390.1,111.5 L389.3,111.6 L388.6,111.8 L387.9,112.1 L387.3,112.5 L386.7,112.9 L386.2,113.5 L385.8,114.1 L385.6,114.8 L385.4,115.6 L385.3,116.3 L385.3,116.4 L384.8,116.1 L384.1,115.8 L383.4,115.6 L382.7,115.5 L381.9,115.6 L381.2,115.8 L380.6,116.1 L379.9,116.4 L379.4,116.9 L378.9,117.5 L378.5,118.1 L378.3,118.8 L378.1,119.5 L378.0,120.2 L378.1,120.9 L378.3,121.6 L378.5,122.3 L378.9,122.9 L379.4,123.5 L379.9,124.0 L380.6,124.3 L381.2,124.6 L381.9,124.8 L382.7,124.9 L383.4,124.8 L384.1,124.6 L384.8,124.3 L385.4,124.0 L386.0,123.5 L386.0,123.5 L386.0,124.3 L388.2,125.0 L395.5,125.0 L396.2,125.1 L396.8,125.0 L397.4,124.9 L398.0,124.7 L398.6,124.3 L399.1,123.9 L399.5,123.4 L399.8,122.9 L400.1,122.3 L400.2,121.6 L400.3,121.0 L400.2,120.4 L400.1,119.7 L399.8,119.1 L399.5,118.6 L399.1,118.1 L398.6,117.7 L398.0,117.3 L397.4,117.1 L396.8,117.0 L396.2,116.9 L395.5,117.0 L394.9,117.1 L394.7,117.2 L394.8,117.0 L394.8,116.3 L394.8,115.6Z" fill="#d4d4d4" stroke="#2e4d6e" stroke-width="1.5" stroke-linejoin="round"/>
<path d="M392.07,121.00 A4.10,4.10 0 0 1 396.03,116.90" fill="none" stroke="#2e4d6e" stroke-width="1.5" stroke-linecap="round"/>
<path d="M420.80,101.27 A12.3,12.3 0 1 0 420.80,125.73 A17.9,17.9 0 0 1 420.80,101.27 Z" fill="#fff" stroke="#111" stroke-width="1.6" stroke-linejoin="round"/>
<path d="M429.1,114.8 L428.9,114.1 L428.5,113.5 L428.0,112.9 L427.4,112.5 L426.8,112.1 L426.1,111.8 L425.4,111.6 L424.6,111.5 L423.9,111.6 L423.2,111.8 L422.5,112.1 L421.8,112.5 L421.3,112.9 L420.8,113.5 L420.4,114.1 L420.1,114.8 L419.9,115.6 L419.9,116.3 L419.9,116.4 L419.3,116.1 L418.7,115.8 L418.0,115.6 L417.2,115.5 L416.5,115.6 L415.8,115.8 L415.1,116.1 L414.5,116.4 L413.9,116.9 L413.5,117.5 L413.1,118.1 L412.8,118.8 L412.6,119.5 L412.6,120.2 L412.6,120.9 L412.8,121.6 L413.1,122.3 L413.5,122.9 L413.9,123.5 L414.5,124.0 L415.1,124.3 L415.8,124.6 L416.5,124.8 L417.2,124.9 L418.0,124.8 L418.7,124.6 L419.3,124.3 L420.0,124.0 L420.5,123.5 L420.5,123.5 L420.5,124.3 L422.7,125.0 L430.1,125.0 L430.7,125.1 L431.4,125.0 L432.0,124.9 L432.6,124.7 L433.1,124.3 L433.6,123.9 L434.0,123.4 L434.4,122.9 L434.6,122.3 L434.8,121.6 L434.8,121.0 L434.8,120.4 L434.6,119.7 L434.4,119.1 L434.0,118.6 L433.6,118.1 L433.1,117.7 L432.6,117.3 L432.0,117.1 L431.4,117.0 L430.7,116.9 L430.1,117.0 L429.5,117.1 L429.3,117.2 L429.3,117.0 L429.4,116.3 L429.3,115.6Z" fill="#d4d4d4" stroke="#2e4d6e" stroke-width="1.5" stroke-linejoin="round"/>
<path d="M426.62,121.00 A4.10,4.10 0 0 1 430.58,116.90" fill="none" stroke="#2e4d6e" stroke-width="1.5" stroke-linecap="round"/>
<path d="M463.47,115.21 L470.40,116.27 L470.79,114.41 L464.03,112.56ZM460.15,118.22 L464.30,123.87 L465.89,122.83 L462.41,116.75ZM455.67,117.99 L454.61,124.92 L456.46,125.32 L458.31,118.56ZM452.66,114.67 L447.01,118.82 L448.04,120.41 L454.13,116.94ZM452.88,110.19 L445.95,109.13 L445.56,110.99 L452.32,112.84ZM456.20,107.18 L452.05,101.53 L450.46,102.57 L453.94,108.65ZM460.68,107.41 L461.74,100.48 L459.89,100.08 L458.04,106.84ZM463.69,110.73 L469.34,106.58 L468.31,104.99 L462.22,108.46Z" fill="#f5e51c" stroke="#c8bc66" stroke-width="0.6" stroke-linejoin="round"/>
<circle cx="458.17499999999995" cy="112.7" r="6.20" fill="#f5e51c" stroke="#f2aa25" stroke-width="0.9"/>
<path d="M454.3,116.8 L454.0,116.1 L453.7,115.5 L453.2,114.9 L452.7,114.4 L452.2,114.1 L451.5,113.8 L450.9,113.6 L450.2,113.5 L449.5,113.6 L448.9,113.8 L448.3,114.1 L447.7,114.4 L447.2,114.9 L446.7,115.5 L446.4,116.1 L446.1,116.8 L446.0,117.5 L445.9,118.3 L445.9,118.4 L445.9,118.4 L445.3,118.0 L444.7,117.7 L444.1,117.6 L443.4,117.5 L442.8,117.6 L442.1,117.7 L441.5,118.0 L441.0,118.4 L440.5,118.9 L440.0,119.4 L439.7,120.0 L439.4,120.7 L439.3,121.4 L439.2,122.1 L439.3,122.9 L439.4,123.6 L439.7,124.2 L440.0,124.8 L440.5,125.4 L441.0,125.9 L441.5,126.2 L442.1,126.5 L442.8,126.7 L443.4,126.8 L444.1,126.7 L444.7,126.5 L445.3,126.2 L445.9,125.9 L446.4,125.4 L446.5,125.3 L446.5,126.2 L448.5,127.0 L455.2,127.0 L455.8,127.0 L456.4,126.9 L456.9,126.8 L457.5,126.6 L458.0,126.2 L458.4,125.8 L458.8,125.3 L459.1,124.8 L459.3,124.2 L459.5,123.6 L459.5,122.9 L459.5,122.3 L459.3,121.7 L459.1,121.1 L458.8,120.5 L458.4,120.1 L458.0,119.6 L457.5,119.3 L456.9,119.1 L456.4,118.9 L455.8,118.9 L455.2,118.9 L454.7,119.1 L454.4,119.2 L454.4,119.0 L454.5,118.3 L454.4,117.5Z" fill="#d4d4d4" stroke="#2563c4" stroke-width="1.5" stroke-linejoin="round"/>
<path d="M452.11,122.93 A3.69,4.07 0 0 1 455.67,118.87" fill="none" stroke="#2563c4" stroke-width="1.5" stroke-linecap="round"/>
<path d="M492.72,115.41 L499.65,116.47 L500.04,114.61 L493.28,112.76ZM489.40,118.42 L493.55,124.07 L495.14,123.03 L491.66,116.95ZM484.92,118.19 L483.86,125.12 L485.71,125.52 L487.56,118.76ZM481.91,114.87 L476.26,119.02 L477.29,120.61 L483.38,117.14ZM482.13,110.39 L475.20,109.33 L474.81,111.19 L481.57,113.04ZM485.45,107.38 L481.30,101.73 L479.71,102.77 L483.19,108.85ZM489.93,107.61 L490.99,100.68 L489.14,100.28 L487.29,107.04ZM492.94,110.93 L498.59,106.78 L497.56,105.19 L491.47,108.66Z" fill="#f5e51c" stroke="#c8bc66" stroke-width="0.6" stroke-linejoin="round"/>
<circle cx="487.425" cy="112.9" r="6.20" fill="#f5e51c" stroke="#f2aa25" stroke-width="0.9"/>
<path d="M499.3,116.6 L499.1,116.1 L498.8,115.6 L498.5,115.1 L498.1,114.7 L497.7,114.4 L497.2,114.2 L496.7,114.1 L496.2,114.0 L495.7,114.1 L495.2,114.2 L494.7,114.4 L494.2,114.7 L493.8,115.1 L493.5,115.6 L493.2,116.1 L493.0,116.6 L492.9,117.2 L492.9,117.8 L492.9,118.3 L492.6,118.0 L492.2,117.7 L491.7,117.5 L491.2,117.3 L490.7,117.3 L490.2,117.3 L489.7,117.5 L489.3,117.7 L488.8,118.0 L488.4,118.4 L488.1,118.8 L487.9,119.3 L487.7,119.8 L487.5,120.4 L487.5,120.9 L487.5,121.5 L487.7,122.1 L487.9,122.6 L488.1,123.1 L488.4,123.5 L488.8,123.9 L489.3,124.2 L489.7,124.4 L490.2,124.5 L490.7,124.6 L491.2,124.5 L491.7,124.4 L492.2,124.2 L492.6,123.9 L493.0,123.5 L493.2,123.3 L493.2,124.3 L494.8,124.8 L500.2,124.8 L500.2,124.8 L500.7,124.8 L501.1,124.8 L501.5,124.6 L502.0,124.4 L502.3,124.2 L502.7,123.9 L503.0,123.5 L503.2,123.0 L503.4,122.6 L503.5,122.1 L503.5,121.6 L503.5,121.1 L503.4,120.6 L503.2,120.1 L503.0,119.7 L502.7,119.3 L502.3,119.0 L502.0,118.7 L501.5,118.5 L501.1,118.4 L500.7,118.4 L500.2,118.4 L499.8,118.5 L499.4,118.7 L499.3,118.8 L499.4,118.3 L499.5,117.8 L499.4,117.2Z" fill="#ffffff" stroke="#2563c4" stroke-width="1.5" stroke-linejoin="round"/>
<path d="M497.85,121.59 A2.82,3.20 0 0 1 500.57,118.39" fill="none" stroke="#2563c4" stroke-width="1.5" stroke-linecap="round"/>
<path d="M524.45,101.27 A12.3,12.3 0 1 0 524.45,125.73 A17.9,17.9 0 0 1 524.45,101.27 Z" fill="#fff" stroke="#111" stroke-width="1.6" stroke-linejoin="round"/>
<path d="M532.8,114.8 L532.5,114.1 L532.1,113.5 L531.6,112.9 L531.1,112.5 L530.4,112.1 L529.7,111.8 L529.0,111.6 L528.3,111.5 L527.5,111.6 L526.8,111.8 L526.1,112.1 L525.5,112.5 L524.9,112.9 L524.4,113.5 L524.0,114.1 L523.8,114.8 L523.6,115.6 L523.5,116.3 L523.5,116.4 L523.0,116.1 L522.3,115.8 L521.6,115.6 L520.9,115.5 L520.1,115.6 L519.4,115.8 L518.8,116.1 L518.1,116.4 L517.6,116.9 L517.1,117.5 L516.7,118.1 L516.5,118.8 L516.3,119.5 L516.2,120.2 L516.3,120.9 L516.5,121.6 L516.7,122.3 L517.1,122.9 L517.6,123.5 L518.1,124.0 L518.8,124.3 L519.4,124.6 L520.1,124.8 L520.9,124.9 L521.6,124.8 L522.3,124.6 L523.0,124.3 L523.6,124.0 L524.2,123.5 L524.2,123.5 L524.2,124.3 L526.4,125.0 L533.7,125.0 L534.4,125.1 L535.0,125.0 L535.6,124.9 L536.2,124.7 L536.8,124.3 L537.3,123.9 L537.7,123.4 L538.0,122.9 L538.3,122.3 L538.4,121.6 L538.5,121.0 L538.4,120.4 L538.3,119.7 L538.0,119.1 L537.7,118.6 L537.3,118.1 L536.8,117.7 L536.2,117.3 L535.6,117.1 L535.0,117.0 L534.4,116.9 L533.7,117.0 L533.1,117.1 L532.9,117.2 L533.0,117.0 L533.0,116.3 L533.0,115.6Z" fill="#d4d4d4" stroke="#2e4d6e" stroke-width="1.5" stroke-linejoin="round"/>
<path d="M530.27,121.00 A4.10,4.10 0 0 1 534.23,116.90" fill="none" stroke="#2e4d6e" stroke-width="1.5" stroke-linecap="round"/>
<path d="M559.00,101.27 A12.3,12.3 0 1 0 559.00,125.73 A17.9,17.9 0 0 1 559.00,101.27 Z" fill="#fff" stroke="#111" stroke-width="1.6" stroke-linejoin="round"/>
<path d="M567.3,114.8 L567.1,114.1 L566.7,113.5 L566.2,112.9 L565.6,112.5 L565.0,112.1 L564.3,111.8 L563.6,111.6 L562.8,111.5 L562.1,111.6 L561.4,111.8 L560.7,112.1 L560.0,112.5 L559.5,112.9 L559.0,113.5 L558.6,114.1 L558.3,114.8 L558.1,115.6 L558.1,116.3 L558.1,116.4 L557.5,116.1 L556.9,115.8 L556.2,115.6 L555.4,115.5 L554.7,115.6 L554.0,115.8 L553.3,116.1 L552.7,116.4 L552.1,116.9 L551.7,117.5 L551.3,118.1 L551.0,118.8 L550.8,119.5 L550.8,120.2 L550.8,120.9 L551.0,121.6 L551.3,122.3 L551.7,122.9 L552.1,123.5 L552.7,124.0 L553.3,124.3 L554.0,124.6 L554.7,124.8 L555.4,124.9 L556.2,124.8 L556.9,124.6 L557.5,124.3 L558.2,124.0 L558.7,123.5 L558.7,123.5 L558.7,124.3 L560.9,125.0 L568.3,125.0 L568.9,125.1 L569.6,125.0 L570.2,124.9 L570.8,124.7 L571.3,124.3 L571.8,123.9 L572.2,123.4 L572.6,122.9 L572.8,122.3 L573.0,121.6 L573.0,121.0 L573.0,120.4 L572.8,119.7 L572.6,119.1 L572.2,118.6 L571.8,118.1 L571.3,117.7 L570.8,117.3 L570.2,117.1 L569.6,117.0 L568.9,116.9 L568.3,117.0 L567.7,117.1 L567.5,117.2 L567.5,117.0 L567.6,116.3 L567.5,115.6Z" fill="#d4d4d4" stroke="#2e4d6e" stroke-width="1.5" stroke-linejoin="round"/>
<path d="M564.82,121.00 A4.10,4.10 0 0 1 568.78,116.90" fill="none" stroke="#2e4d6e" stroke-width="1.5" stroke-linecap="round"/>
<path d="M601.67,115.21 L608.60,116.27 L608.99,114.41 L602.23,112.56ZM598.35,118.22 L602.50,123.87 L604.09,122.83 L600.61,116.75ZM593.87,117.99 L592.81,124.92 L594.66,125.32 L596.51,118.56ZM590.86,114.67 L585.21,118.82 L586.24,120.41 L592.33,116.94ZM591.08,110.19 L584.15,109.13 L583.76,110.99 L590.52,112.84ZM594.40,107.18 L590.25,101.53 L588.66,102.57 L592.14,108.65ZM598.88,107.41 L599.94,100.48 L598.09,100.08 L596.24,106.84ZM601.89,110.73 L607.54,106.58 L606.51,104.99 L600.42,108.46Z" fill="#f5e51c" stroke="#c8bc66" stroke-width="0.6" stroke-linejoin="round"/>
<circle cx="596.3749999999999" cy="112.7" r="6.20" fill="#f5e51c" stroke="#f2aa25" stroke-width="0.9"/>
<path d="M592.5,116.8 L592.2,116.1 L591.9,115.5 L591.4,114.9 L590.9,114.4 L590.4,114.1 L589.7,113.8 L589.1,113.6 L588.4,113.5 L587.7,113.6 L587.1,113.8 L586.5,114.1 L585.9,114.4 L585.4,114.9 L584.9,115.5 L584.6,116.1 L584.3,116.8 L584.2,117.5 L584.1,118.3 L584.1,118.4 L584.1,118.4 L583.5,118.0 L582.9,117.7 L582.3,117.6 L581.6,117.5 L581.0,117.6 L580.3,117.7 L579.7,118.0 L579.2,118.4 L578.7,118.9 L578.2,119.4 L577.9,120.0 L577.6,120.7 L577.5,121.4 L577.4,122.1 L577.5,122.9 L577.6,123.6 L577.9,124.2 L578.2,124.8 L578.7,125.4 L579.2,125.9 L579.7,126.2 L580.3,126.5 L581.0,126.7 L581.6,126.8 L582.3,126.7 L582.9,126.5 L583.5,126.2 L584.1,125.9 L584.6,125.4 L584.7,125.3 L584.7,126.2 L586.7,127.0 L593.4,127.0 L594.0,127.0 L594.6,126.9 L595.1,126.8 L595.7,126.6 L596.2,126.2 L596.6,125.8 L597.0,125.3 L597.3,124.8 L597.5,124.2 L597.7,123.6 L597.7,122.9 L597.7,122.3 L597.5,121.7 L597.3,121.1 L597.0,120.5 L596.6,120.1 L596.2,119.6 L595.7,119.3 L595.1,119.1 L594.6,118.9 L594.0,118.9 L593.4,118.9 L592.9,119.1 L592.6,119.2 L592.6,119.0 L592.7,118.3 L592.6,117.5Z" fill="#d4d4d4" stroke="#2563c4" stroke-width="1.5" stroke-linejoin="round"/>
<path d="M590.31,122.93 A3.69,4.07 0 0 1 593.87,118.87" fill="none" stroke="#2563c4" stroke-width="1.5" stroke-linecap="round"/>
<path d="M636.22,115.21 L643.15,116.27 L643.54,114.41 L636.78,112.56ZM632.90,118.22 L637.05,123.87 L638.64,122.83 L635.16,116.75ZM628.42,117.99 L627.36,124.92 L629.21,125.32 L631.06,118.56ZM625.41,114.67 L619.76,118.82 L620.79,120.41 L626.88,116.94ZM625.63,110.19 L618.70,109.13 L618.31,110.99 L625.07,112.84ZM628.95,107.18 L624.80,101.53 L623.21,102.57 L626.69,108.65ZM633.43,107.41 L634.49,100.48 L632.64,100.08 L630.79,106.84ZM636.44,110.73 L642.09,106.58 L641.06,104.99 L634.97,108.46Z" fill="#f5e51c" stroke="#c8bc66" stroke-width="0.6" stroke-linejoin="round"/>
<circle cx="630.925" cy="112.7" r="6.20" fill="#f5e51c" stroke="#f2aa25" stroke-width="0.9"/>
<path d="M627.0,116.8 L626.8,116.1 L626.4,115.5 L626.0,114.9 L625.5,114.4 L624.9,114.1 L624.3,113.8 L623.6,113.6 L623.0,113.5 L622.3,113.6 L621.6,113.8 L621.0,114.1 L620.4,114.4 L619.9,114.9 L619.5,115.5 L619.1,116.1 L618.9,116.8 L618.7,117.5 L618.7,118.3 L618.7,118.4 L618.6,118.4 L618.1,118.0 L617.5,117.7 L616.8,117.6 L616.2,117.5 L615.5,117.6 L614.9,117.7 L614.3,118.0 L613.7,118.4 L613.2,118.9 L612.8,119.4 L612.4,120.0 L612.2,120.7 L612.0,121.4 L612.0,122.1 L612.0,122.9 L612.2,123.6 L612.4,124.2 L612.8,124.8 L613.2,125.4 L613.7,125.9 L614.3,126.2 L614.9,126.5 L615.5,126.7 L616.2,126.8 L616.8,126.7 L617.5,126.5 L618.1,126.2 L618.6,125.9 L619.2,125.4 L619.2,125.3 L619.2,126.2 L621.2,127.0 L628.0,127.0 L628.6,127.0 L629.1,126.9 L629.7,126.8 L630.2,126.6 L630.7,126.2 L631.2,125.8 L631.5,125.3 L631.8,124.8 L632.1,124.2 L632.2,123.6 L632.2,122.9 L632.2,122.3 L632.1,121.7 L631.8,121.1 L631.5,120.5 L631.2,120.1 L630.7,119.6 L630.2,119.3 L629.7,119.1 L629.1,118.9 L628.6,118.9 L628.0,118.9 L627.4,119.1 L627.2,119.2 L627.2,119.0 L627.3,118.3 L627.2,117.5Z" fill="#d4d4d4" stroke="#2563c4" stroke-width="1.5" stroke-linejoin="round"/>
<path d="M624.86,122.93 A3.69,4.07 0 0 1 628.42,118.87" fill="none" stroke="#2563c4" stroke-width="1.5" stroke-linecap="round"/>
<path d="M663.35,101.27 A12.3,12.3 0 1 0 663.35,125.73 A17.9,17.9 0 0 1 663.35,101.27 Z" fill="#fff" stroke="#111" stroke-width="1.6" stroke-linejoin="round"/>
<path d="M670.0,115.7 L669.8,115.1 L669.4,114.5 L669.0,114.0 L668.5,113.6 L668.0,113.2 L667.4,113.0 L666.7,112.8 L666.1,112.7 L665.4,112.8 L664.8,113.0 L664.2,113.2 L663.7,113.6 L663.2,114.0 L662.8,114.5 L662.4,115.1 L662.2,115.7 L662.0,116.4 L662.0,117.1 L662.0,117.3 L661.9,117.3 L661.4,116.9 L660.8,116.7 L660.2,116.5 L659.5,116.5 L658.9,116.5 L658.3,116.7 L657.7,116.9 L657.2,117.3 L656.7,117.7 L656.3,118.2 L655.9,118.8 L655.7,119.4 L655.5,120.0 L655.5,120.7 L655.5,121.4 L655.7,122.0 L655.9,122.6 L656.3,123.2 L656.7,123.7 L657.2,124.2 L657.7,124.5 L658.3,124.8 L658.9,124.9 L659.5,125.0 L660.2,124.9 L660.8,124.8 L661.4,124.5 L661.9,124.2 L662.4,123.7 L662.5,123.6 L662.5,124.5 L664.4,125.2 L670.9,125.2 L670.9,125.2 L671.5,125.2 L672.1,125.2 L672.6,125.0 L673.1,124.8 L673.6,124.5 L674.0,124.1 L674.4,123.7 L674.7,123.2 L674.9,122.6 L675.0,122.0 L675.1,121.4 L675.0,120.9 L674.9,120.3 L674.7,119.7 L674.4,119.2 L674.0,118.8 L673.6,118.4 L673.1,118.1 L672.6,117.9 L672.1,117.7 L671.5,117.7 L670.9,117.7 L670.4,117.9 L670.1,118.0 L670.2,117.8 L670.2,117.1 L670.2,116.4Z" fill="#d4d4d4" stroke="#2e4d6e" stroke-width="1.5" stroke-linejoin="round"/>
<path d="M667.95,121.45 A3.55,3.75 0 0 1 671.38,117.71" fill="none" stroke="#2e4d6e" stroke-width="1.5" stroke-linecap="round"/>
<path d="M667.1,127.8 L665.3,133.2 M671.6,127.8 L669.8,133.2" stroke="#2e4d6e" stroke-width="2"/>
<path d="M697.90,101.27 A12.3,12.3 0 1 0 697.90,125.73 A17.9,17.9 0 0 1 697.90,101.27 Z" fill="#fff" stroke="#111" stroke-width="1.6" stroke-linejoin="round"/>
<path d="M704.6,115.7 L704.3,115.1 L704.0,114.5 L703.6,114.0 L703.1,113.6 L702.5,113.2 L701.9,113.0 L701.3,112.8 L700.6,112.7 L700.0,112.8 L699.4,113.0 L698.8,113.2 L698.2,113.6 L697.7,114.0 L697.3,114.5 L697.0,115.1 L696.7,115.7 L696.6,116.4 L696.5,117.1 L696.5,117.3 L696.5,117.3 L695.9,116.9 L695.3,116.7 L694.7,116.5 L694.1,116.5 L693.4,116.5 L692.8,116.7 L692.2,116.9 L691.7,117.3 L691.2,117.7 L690.8,118.2 L690.5,118.8 L690.2,119.4 L690.1,120.0 L690.0,120.7 L690.1,121.4 L690.2,122.0 L690.5,122.6 L690.8,123.2 L691.2,123.7 L691.7,124.2 L692.2,124.5 L692.8,124.8 L693.4,124.9 L694.1,125.0 L694.7,124.9 L695.3,124.8 L695.9,124.5 L696.5,124.2 L696.9,123.7 L697.0,123.6 L697.0,124.5 L699.0,125.2 L705.5,125.2 L705.5,125.2 L706.1,125.2 L706.6,125.2 L707.1,125.0 L707.7,124.8 L708.1,124.5 L708.6,124.1 L708.9,123.7 L709.2,123.2 L709.4,122.6 L709.6,122.0 L709.6,121.4 L709.6,120.9 L709.4,120.3 L709.2,119.7 L708.9,119.2 L708.6,118.8 L708.1,118.4 L707.7,118.1 L707.1,117.9 L706.6,117.7 L706.1,117.7 L705.5,117.7 L705.0,117.9 L704.7,118.0 L704.7,117.8 L704.8,117.1 L704.7,116.4Z" fill="#d4d4d4" stroke="#2e4d6e" stroke-width="1.5" stroke-linejoin="round"/>
<path d="M702.50,121.45 A3.55,3.75 0 0 1 705.93,117.71" fill="none" stroke="#2e4d6e" stroke-width="1.5" stroke-linecap="round"/>
<path d="M701.7,127.8 L699.9,133.2 M706.2,127.8 L704.4,133.2" stroke="#2e4d6e" stroke-width="2"/>
<path d="M737.0,108.8 L736.6,108.0 L736.2,107.2 L735.6,106.6 L734.9,106.0 L734.2,105.6 L733.4,105.2 L732.5,105.0 L731.7,105.0 L730.8,105.0 L730.0,105.2 L729.2,105.6 L728.4,106.0 L727.8,106.6 L727.2,107.2 L726.7,108.0 L726.4,108.8 L726.2,109.6 L726.1,110.5 L726.2,111.4 L726.4,112.2 L726.7,113.0 L727.2,113.8 L727.6,114.2 L726.4,114.8 L726.3,114.7 L725.9,114.0 L725.3,113.3 L724.7,112.8 L723.9,112.3 L723.2,112.0 L722.3,111.8 L721.5,111.8 L720.6,111.8 L719.8,112.0 L719.0,112.3 L718.3,112.8 L717.6,113.3 L717.1,114.0 L716.6,114.7 L716.3,115.5 L716.1,116.3 L716.0,117.2 L716.1,118.1 L716.3,118.9 L716.6,119.7 L717.1,120.4 L717.6,121.1 L718.3,121.6 L719.0,122.1 L719.8,122.4 L720.6,122.6 L721.5,122.7 L743.0,122.7 L743.0,119.3 L743.8,119.3 L744.6,119.1 L745.4,118.8 L746.1,118.3 L746.8,117.8 L747.3,117.1 L747.7,116.4 L748.1,115.7 L748.3,114.8 L748.3,114.0 L748.3,113.2 L748.1,112.3 L747.7,111.6 L747.3,110.9 L746.8,110.2 L746.1,109.7 L745.4,109.2 L744.6,108.9 L743.8,108.7 L743.0,108.7 L742.1,108.7 L741.3,108.9 L740.5,109.2 L739.8,109.7 L739.2,110.2 L738.6,110.9 L738.2,111.6 L737.9,112.3 L737.7,113.2 L736.6,113.0 L737.0,112.2 L737.2,111.4 L737.2,110.5 L737.2,109.6Z" fill="#d4d4d4" stroke="#2563c4" stroke-width="1.5" stroke-linejoin="round"/>
<path d="M740.8,114.5 L740.5,113.8 L740.2,113.1 L739.7,112.5 L739.1,112.0 L738.5,111.6 L737.8,111.3 L737.1,111.1 L736.4,111.1 L735.7,111.1 L735.0,111.3 L734.3,111.6 L733.7,112.0 L733.1,112.5 L732.7,113.1 L732.3,113.8 L732.0,114.5 L731.8,115.3 L731.8,116.1 L731.8,116.2 L731.2,115.8 L730.6,115.5 L729.9,115.3 L729.2,115.3 L728.5,115.3 L727.8,115.5 L727.1,115.8 L726.5,116.2 L726.0,116.7 L725.5,117.3 L725.1,118.0 L724.8,118.7 L724.7,119.4 L724.6,120.2 L724.7,121.0 L724.8,121.7 L725.1,122.4 L725.5,123.1 L726.0,123.7 L726.5,124.2 L727.1,124.6 L727.8,124.9 L728.5,125.1 L729.2,125.1 L729.9,125.1 L730.6,124.9 L731.2,124.6 L731.8,124.2 L732.4,123.7 L732.4,123.7 L732.4,124.5 L734.5,125.4 L741.8,125.4 L742.4,125.4 L743.0,125.3 L743.6,125.2 L744.2,124.9 L744.7,124.6 L745.2,124.1 L745.6,123.6 L745.9,123.0 L746.2,122.4 L746.3,121.7 L746.4,121.0 L746.3,120.4 L746.2,119.7 L745.9,119.1 L745.6,118.5 L745.2,118.0 L744.7,117.5 L744.2,117.2 L743.6,116.9 L743.0,116.7 L742.4,116.7 L741.8,116.7 L741.1,116.9 L741.0,117.0 L741.0,116.9 L741.0,116.1 L741.0,115.3Z" fill="#ffffff" stroke="#2563c4" stroke-width="1.5" stroke-linejoin="round"/>
<path d="M738.38,121.05 A4.00,4.36 0 0 1 742.24,116.69" fill="none" stroke="#2563c4" stroke-width="1.5" stroke-linecap="round"/>
<path d="M729.2,127.8 L727.4,133.2 M733.7,127.8 L731.9,133.2" stroke="#4a78b8" stroke-width="2"/>
<path d="M771.5,108.8 L771.2,108.0 L770.7,107.2 L770.1,106.6 L769.5,106.0 L768.7,105.6 L767.9,105.2 L767.1,105.0 L766.2,105.0 L765.4,105.0 L764.5,105.2 L763.7,105.6 L763.0,106.0 L762.3,106.6 L761.7,107.2 L761.3,108.0 L760.9,108.8 L760.7,109.6 L760.7,110.5 L760.7,111.4 L760.9,112.2 L761.3,113.0 L761.7,113.8 L762.1,114.2 L760.9,114.8 L760.9,114.7 L760.4,114.0 L759.9,113.3 L759.2,112.8 L758.5,112.3 L757.7,112.0 L756.9,111.8 L756.0,111.8 L755.2,111.8 L754.3,112.0 L753.6,112.3 L752.8,112.8 L752.2,113.3 L751.6,114.0 L751.2,114.7 L750.8,115.5 L750.6,116.3 L750.6,117.2 L750.6,118.1 L750.8,118.9 L751.2,119.7 L751.6,120.4 L752.2,121.1 L752.8,121.6 L753.6,122.1 L754.3,122.4 L755.2,122.6 L756.0,122.7 L777.5,122.7 L777.5,119.3 L778.4,119.3 L779.2,119.1 L780.0,118.8 L780.7,118.3 L781.3,117.8 L781.9,117.1 L782.3,116.4 L782.6,115.7 L782.8,114.8 L782.9,114.0 L782.8,113.2 L782.6,112.3 L782.3,111.6 L781.9,110.9 L781.3,110.2 L780.7,109.7 L780.0,109.2 L779.2,108.9 L778.4,108.7 L777.5,108.7 L776.7,108.7 L775.9,108.9 L775.1,109.2 L774.4,109.7 L773.7,110.2 L773.2,110.9 L772.8,111.6 L772.4,112.3 L772.2,113.2 L771.2,113.0 L771.5,112.2 L771.7,111.4 L771.8,110.5 L771.7,109.6Z" fill="#d4d4d4" stroke="#2563c4" stroke-width="1.5" stroke-linejoin="round"/>
<path d="M775.4,114.5 L775.1,113.8 L774.7,113.1 L774.2,112.5 L773.7,112.0 L773.1,111.6 L772.4,111.3 L771.7,111.1 L771.0,111.1 L770.2,111.1 L769.5,111.3 L768.9,111.6 L768.2,112.0 L767.7,112.5 L767.2,113.1 L766.8,113.8 L766.6,114.5 L766.4,115.3 L766.3,116.1 L766.3,116.2 L765.8,115.8 L765.1,115.5 L764.4,115.3 L763.7,115.3 L763.0,115.3 L762.3,115.5 L761.7,115.8 L761.0,116.2 L760.5,116.7 L760.0,117.3 L759.7,118.0 L759.4,118.7 L759.2,119.4 L759.2,120.2 L759.2,121.0 L759.4,121.7 L759.7,122.4 L760.0,123.1 L760.5,123.7 L761.0,124.2 L761.7,124.6 L762.3,124.9 L763.0,125.1 L763.7,125.1 L764.4,125.1 L765.1,124.9 L765.8,124.6 L766.4,124.2 L766.9,123.7 L766.9,123.7 L766.9,124.5 L769.1,125.4 L776.3,125.4 L776.9,125.4 L777.6,125.3 L778.2,125.2 L778.7,124.9 L779.3,124.6 L779.8,124.1 L780.2,123.6 L780.5,123.0 L780.7,122.4 L780.9,121.7 L780.9,121.0 L780.9,120.4 L780.7,119.7 L780.5,119.1 L780.2,118.5 L779.8,118.0 L779.3,117.5 L778.7,117.2 L778.2,116.9 L777.6,116.7 L776.9,116.7 L776.3,116.7 L775.7,116.9 L775.5,117.0 L775.5,116.9 L775.6,116.1 L775.5,115.3Z" fill="#ffffff" stroke="#2563c4" stroke-width="1.5" stroke-linejoin="round"/>
<path d="M772.93,121.05 A4.00,4.36 0 0 1 776.79,116.69" fill="none" stroke="#2563c4" stroke-width="1.5" stroke-linecap="round"/>
<path d="M806.1,108.8 L805.7,108.0 L805.3,107.2 L804.7,106.6 L804.0,106.0 L803.3,105.6 L802.5,105.2 L801.6,105.0 L800.8,105.0 L799.9,105.0 L799.1,105.2 L798.3,105.6 L797.5,106.0 L796.9,106.6 L796.3,107.2 L795.8,108.0 L795.5,108.8 L795.3,109.6 L795.2,110.5 L795.3,111.4 L795.5,112.2 L795.8,113.0 L796.3,113.8 L796.7,114.2 L795.5,114.8 L795.4,114.7 L795.0,114.0 L794.4,113.3 L793.8,112.8 L793.0,112.3 L792.3,112.0 L791.4,111.8 L790.6,111.8 L789.7,111.8 L788.9,112.0 L788.1,112.3 L787.4,112.8 L786.7,113.3 L786.2,114.0 L785.7,114.7 L785.4,115.5 L785.2,116.3 L785.1,117.2 L785.2,118.1 L785.4,118.9 L785.7,119.7 L786.2,120.4 L786.7,121.1 L787.4,121.6 L788.1,122.1 L788.9,122.4 L789.7,122.6 L790.6,122.7 L812.1,122.7 L812.1,119.3 L812.9,119.3 L813.7,119.1 L814.5,118.8 L815.2,118.3 L815.9,117.8 L816.4,117.1 L816.8,116.4 L817.2,115.7 L817.4,114.8 L817.4,114.0 L817.4,113.2 L817.2,112.3 L816.8,111.6 L816.4,110.9 L815.9,110.2 L815.2,109.7 L814.5,109.2 L813.7,108.9 L812.9,108.7 L812.1,108.7 L811.2,108.7 L810.4,108.9 L809.6,109.2 L808.9,109.7 L808.3,110.2 L807.7,110.9 L807.3,111.6 L807.0,112.3 L806.8,113.2 L805.7,113.0 L806.1,112.2 L806.3,111.4 L806.3,110.5 L806.3,109.6Z" fill="#d4d4d4" stroke="#2e4d6e" stroke-width="1.5" stroke-linejoin="round"/>
<path d="M809.9,114.5 L809.6,113.8 L809.3,113.1 L808.8,112.5 L808.2,112.0 L807.6,111.6 L806.9,111.3 L806.2,111.1 L805.5,111.1 L804.8,111.1 L804.1,111.3 L803.4,111.6 L802.8,112.0 L802.2,112.5 L801.8,113.1 L801.4,113.8 L801.1,114.5 L800.9,115.3 L800.9,116.1 L800.9,116.2 L800.3,115.8 L799.7,115.5 L799.0,115.3 L798.3,115.3 L797.6,115.3 L796.9,115.5 L796.2,115.8 L795.6,116.2 L795.1,116.7 L794.6,117.3 L794.2,118.0 L793.9,118.7 L793.8,119.4 L793.7,120.2 L793.8,121.0 L793.9,121.7 L794.2,122.4 L794.6,123.1 L795.1,123.7 L795.6,124.2 L796.2,124.6 L796.9,124.9 L797.6,125.1 L798.3,125.1 L799.0,125.1 L799.7,124.9 L800.3,124.6 L800.9,124.2 L801.5,123.7 L801.5,123.7 L801.5,124.5 L803.6,125.4 L810.9,125.4 L811.5,125.4 L812.1,125.3 L812.7,125.2 L813.3,124.9 L813.8,124.6 L814.3,124.1 L814.7,123.6 L815.0,123.0 L815.3,122.4 L815.4,121.7 L815.5,121.0 L815.4,120.4 L815.3,119.7 L815.0,119.1 L814.7,118.5 L814.3,118.0 L813.8,117.5 L813.3,117.2 L812.7,116.9 L812.1,116.7 L811.5,116.7 L810.9,116.7 L810.2,116.9 L810.1,117.0 L810.1,116.9 L810.1,116.1 L810.1,115.3Z" fill="#ffffff" stroke="#2e4d6e" stroke-width="1.5" stroke-linejoin="round"/>
<path d="M807.48,121.05 A4.00,4.36 0 0 1 811.34,116.69" fill="none" stroke="#2e4d6e" stroke-width="1.5" stroke-linecap="round"/>
<path d="M840.6,108.8 L840.3,108.0 L839.8,107.2 L839.2,106.6 L838.6,106.0 L837.8,105.6 L837.0,105.2 L836.2,105.0 L835.3,105.0 L834.5,105.0 L833.6,105.2 L832.8,105.6 L832.1,106.0 L831.4,106.6 L830.8,107.2 L830.4,108.0 L830.0,108.8 L829.8,109.6 L829.8,110.5 L829.8,111.4 L830.0,112.2 L830.4,113.0 L830.8,113.8 L831.2,114.2 L830.0,114.8 L830.0,114.7 L829.5,114.0 L829.0,113.3 L828.3,112.8 L827.6,112.3 L826.8,112.0 L826.0,111.8 L825.1,111.8 L824.3,111.8 L823.4,112.0 L822.7,112.3 L821.9,112.8 L821.3,113.3 L820.7,114.0 L820.3,114.7 L819.9,115.5 L819.7,116.3 L819.7,117.2 L819.7,118.1 L819.9,118.9 L820.3,119.7 L820.7,120.4 L821.3,121.1 L821.9,121.6 L822.7,122.1 L823.4,122.4 L824.3,122.6 L825.1,122.7 L846.6,122.7 L846.6,119.3 L847.5,119.3 L848.3,119.1 L849.1,118.8 L849.8,118.3 L850.4,117.8 L851.0,117.1 L851.4,116.4 L851.7,115.7 L851.9,114.8 L852.0,114.0 L851.9,113.2 L851.7,112.3 L851.4,111.6 L851.0,110.9 L850.4,110.2 L849.8,109.7 L849.1,109.2 L848.3,108.9 L847.5,108.7 L846.6,108.7 L845.8,108.7 L845.0,108.9 L844.2,109.2 L843.5,109.7 L842.8,110.2 L842.3,110.9 L841.9,111.6 L841.5,112.3 L841.3,113.2 L840.3,113.0 L840.6,112.2 L840.8,111.4 L840.9,110.5 L840.8,109.6Z" fill="#d4d4d4" stroke="#2e4d6e" stroke-width="1.5" stroke-linejoin="round"/>
<path d="M844.5,114.5 L844.2,113.8 L843.8,113.1 L843.3,112.5 L842.8,112.0 L842.2,111.6 L841.5,111.3 L840.8,111.1 L840.1,111.1 L839.3,111.1 L838.6,111.3 L838.0,111.6 L837.3,112.0 L836.8,112.5 L836.3,113.1 L835.9,113.8 L835.7,114.5 L835.5,115.3 L835.4,116.1 L835.4,116.2 L834.9,115.8 L834.2,115.5 L833.5,115.3 L832.8,115.3 L832.1,115.3 L831.4,115.5 L830.8,115.8 L830.1,116.2 L829.6,116.7 L829.1,117.3 L828.8,118.0 L828.5,118.7 L828.3,119.4 L828.3,120.2 L828.3,121.0 L828.5,121.7 L828.8,122.4 L829.1,123.1 L829.6,123.7 L830.1,124.2 L830.8,124.6 L831.4,124.9 L832.1,125.1 L832.8,125.1 L833.5,125.1 L834.2,124.9 L834.9,124.6 L835.5,124.2 L836.0,123.7 L836.0,123.7 L836.0,124.5 L838.2,125.4 L845.4,125.4 L846.0,125.4 L846.7,125.3 L847.3,125.2 L847.8,124.9 L848.4,124.6 L848.9,124.1 L849.3,123.6 L849.6,123.0 L849.8,122.4 L850.0,121.7 L850.0,121.0 L850.0,120.4 L849.8,119.7 L849.6,119.1 L849.3,118.5 L848.9,118.0 L848.4,117.5 L847.8,117.2 L847.3,116.9 L846.7,116.7 L846.0,116.7 L845.4,116.7 L844.8,116.9 L844.6,117.0 L844.6,116.9 L844.7,116.1 L844.6,115.3Z" fill="#ffffff" stroke="#2e4d6e" stroke-width="1.5" stroke-linejoin="round"/>
<path d="M842.03,121.05 A4.00,4.36 0 0 1 845.89,116.69" fill="none" stroke="#2e4d6e" stroke-width="1.5" stroke-linecap="round"/>
<path d="M875.2,108.8 L874.8,108.0 L874.4,107.2 L873.8,106.6 L873.1,106.0 L872.4,105.6 L871.6,105.2 L870.7,105.0 L869.9,105.0 L869.0,105.0 L868.2,105.2 L867.4,105.6 L866.6,106.0 L866.0,106.6 L865.4,107.2 L864.9,108.0 L864.6,108.8 L864.4,109.6 L864.3,110.5 L864.4,111.4 L864.6,112.2 L864.9,113.0 L865.4,113.8 L865.8,114.2 L864.6,114.8 L864.5,114.7 L864.1,114.0 L863.5,113.3 L862.9,112.8 L862.1,112.3 L861.4,112.0 L860.5,111.8 L859.7,111.8 L858.8,111.8 L858.0,112.0 L857.2,112.3 L856.5,112.8 L855.8,113.3 L855.3,114.0 L854.8,114.7 L854.5,115.5 L854.3,116.3 L854.2,117.2 L854.3,118.1 L854.5,118.9 L854.8,119.7 L855.3,120.4 L855.8,121.1 L856.5,121.6 L857.2,122.1 L858.0,122.4 L858.8,122.6 L859.7,122.7 L881.2,122.7 L881.2,119.3 L882.0,119.3 L882.8,119.1 L883.6,118.8 L884.3,118.3 L885.0,117.8 L885.5,117.1 L885.9,116.4 L886.3,115.7 L886.5,114.8 L886.5,114.0 L886.5,113.2 L886.3,112.3 L885.9,111.6 L885.5,110.9 L885.0,110.2 L884.3,109.7 L883.6,109.2 L882.8,108.9 L882.0,108.7 L881.2,108.7 L880.3,108.7 L879.5,108.9 L878.7,109.2 L878.0,109.7 L877.4,110.2 L876.8,110.9 L876.4,111.6 L876.1,112.3 L875.9,113.2 L874.8,113.0 L875.2,112.2 L875.4,111.4 L875.4,110.5 L875.4,109.6Z" fill="#d4d4d4" stroke="#2563c4" stroke-width="1.5" stroke-linejoin="round"/>
<path d="M879.0,114.5 L878.7,113.8 L878.4,113.1 L877.9,112.5 L877.3,112.0 L876.7,111.6 L876.0,111.3 L875.3,111.1 L874.6,111.1 L873.9,111.1 L873.2,111.3 L872.5,111.6 L871.9,112.0 L871.3,112.5 L870.9,113.1 L870.5,113.8 L870.2,114.5 L870.0,115.3 L870.0,116.1 L870.0,116.2 L869.4,115.8 L868.8,115.5 L868.1,115.3 L867.4,115.3 L866.7,115.3 L866.0,115.5 L865.3,115.8 L864.7,116.2 L864.2,116.7 L863.7,117.3 L863.3,118.0 L863.0,118.7 L862.9,119.4 L862.8,120.2 L862.9,121.0 L863.0,121.7 L863.3,122.4 L863.7,123.1 L864.2,123.7 L864.7,124.2 L865.3,124.6 L866.0,124.9 L866.7,125.1 L867.4,125.1 L868.1,125.1 L868.8,124.9 L869.4,124.6 L870.0,124.2 L870.6,123.7 L870.6,123.7 L870.6,124.5 L872.7,125.4 L880.0,125.4 L880.6,125.4 L881.2,125.3 L881.8,125.2 L882.4,124.9 L882.9,124.6 L883.4,124.1 L883.8,123.6 L884.1,123.0 L884.4,122.4 L884.5,121.7 L884.6,121.0 L884.5,120.4 L884.4,119.7 L884.1,119.1 L883.8,118.5 L883.4,118.0 L882.9,117.5 L882.4,117.2 L881.8,116.9 L881.2,116.7 L880.6,116.7 L880.0,116.7 L879.3,116.9 L879.2,117.0 L879.2,116.9 L879.2,116.1 L879.2,115.3Z" fill="#ffffff" stroke="#2563c4" stroke-width="1.5" stroke-linejoin="round"/>
<path d="M876.58,121.05 A4.00,4.36 0 0 1 880.44,116.69" fill="none" stroke="#2563c4" stroke-width="1.5" stroke-linecap="round"/>
<path d="M912.62,115.21 L919.55,116.27 L919.94,114.41 L913.18,112.56ZM909.30,118.22 L913.45,123.87 L915.04,122.83 L911.56,116.75ZM904.82,117.99 L903.76,124.92 L905.61,125.32 L907.46,118.56ZM901.81,114.67 L896.16,118.82 L897.19,120.41 L903.28,116.94ZM902.03,110.19 L895.10,109.13 L894.71,110.99 L901.47,112.84ZM905.35,107.18 L901.20,101.53 L899.61,102.57 L903.09,108.65ZM909.83,107.41 L910.89,100.48 L909.04,100.08 L907.19,106.84ZM912.84,110.73 L918.49,106.58 L917.46,104.99 L911.37,108.46Z" fill="#f5e51c" stroke="#c8bc66" stroke-width="0.6" stroke-linejoin="round"/>
<circle cx="907.3249999999998" cy="112.7" r="6.20" fill="#f5e51c" stroke="#f2aa25" stroke-width="0.9"/>
<path d="M903.4,116.8 L903.2,116.1 L902.8,115.5 L902.4,114.9 L901.9,114.4 L901.3,114.1 L900.7,113.8 L900.0,113.6 L899.4,113.5 L898.7,113.6 L898.0,113.8 L897.4,114.1 L896.8,114.4 L896.3,114.9 L895.9,115.5 L895.5,116.1 L895.3,116.8 L895.1,117.5 L895.1,118.3 L895.1,118.4 L895.0,118.4 L894.5,118.0 L893.9,117.7 L893.2,117.6 L892.6,117.5 L891.9,117.6 L891.3,117.7 L890.7,118.0 L890.1,118.4 L889.6,118.9 L889.2,119.4 L888.8,120.0 L888.6,120.7 L888.4,121.4 L888.4,122.1 L888.4,122.9 L888.6,123.6 L888.8,124.2 L889.2,124.8 L889.6,125.4 L890.1,125.9 L890.7,126.2 L891.3,126.5 L891.9,126.7 L892.6,126.8 L893.2,126.7 L893.9,126.5 L894.5,126.2 L895.0,125.9 L895.6,125.4 L895.6,125.3 L895.6,126.2 L897.6,127.0 L904.4,127.0 L905.0,127.0 L905.5,126.9 L906.1,126.8 L906.6,126.6 L907.1,126.2 L907.6,125.8 L907.9,125.3 L908.2,124.8 L908.5,124.2 L908.6,123.6 L908.6,122.9 L908.6,122.3 L908.5,121.7 L908.2,121.1 L907.9,120.5 L907.6,120.1 L907.1,119.6 L906.6,119.3 L906.1,119.1 L905.5,118.9 L905.0,118.9 L904.4,118.9 L903.8,119.1 L903.6,119.2 L903.6,119.0 L903.7,118.3 L903.6,117.5Z" fill="#d4d4d4" stroke="#2563c4" stroke-width="1.5" stroke-linejoin="round"/>
<path d="M901.26,122.93 A3.69,4.07 0 0 1 904.82,118.87" fill="none" stroke="#2563c4" stroke-width="1.5" stroke-linecap="round"/>
<path d="M944.3,108.8 L943.9,108.0 L943.5,107.2 L942.9,106.6 L942.2,106.0 L941.5,105.6 L940.7,105.2 L939.8,105.0 L939.0,105.0 L938.1,105.0 L937.3,105.2 L936.5,105.6 L935.7,106.0 L935.1,106.6 L934.5,107.2 L934.0,108.0 L933.7,108.8 L933.5,109.6 L933.4,110.5 L933.5,111.4 L933.7,112.2 L934.0,113.0 L934.5,113.8 L934.9,114.2 L933.7,114.8 L933.6,114.7 L933.2,114.0 L932.6,113.3 L932.0,112.8 L931.2,112.3 L930.5,112.0 L929.6,111.8 L928.8,111.8 L927.9,111.8 L927.1,112.0 L926.3,112.3 L925.6,112.8 L924.9,113.3 L924.4,114.0 L923.9,114.7 L923.6,115.5 L923.4,116.3 L923.3,117.2 L923.4,118.1 L923.6,118.9 L923.9,119.7 L924.4,120.4 L924.9,121.1 L925.6,121.6 L926.3,122.1 L927.1,122.4 L927.9,122.6 L928.8,122.7 L950.3,122.7 L950.3,119.3 L951.1,119.3 L951.9,119.1 L952.7,118.8 L953.4,118.3 L954.1,117.8 L954.6,117.1 L955.0,116.4 L955.4,115.7 L955.6,114.8 L955.6,114.0 L955.6,113.2 L955.4,112.3 L955.0,111.6 L954.6,110.9 L954.1,110.2 L953.4,109.7 L952.7,109.2 L951.9,108.9 L951.1,108.7 L950.3,108.7 L949.4,108.7 L948.6,108.9 L947.8,109.2 L947.1,109.7 L946.5,110.2 L945.9,110.9 L945.5,111.6 L945.2,112.3 L945.0,113.2 L943.9,113.0 L944.3,112.2 L944.5,111.4 L944.5,110.5 L944.5,109.6Z" fill="#d4d4d4" stroke="#2e4d6e" stroke-width="1.5" stroke-linejoin="round"/>
<path d="M948.1,114.5 L947.8,113.8 L947.5,113.1 L947.0,112.5 L946.4,112.0 L945.8,111.6 L945.1,111.3 L944.4,111.1 L943.7,111.1 L943.0,111.1 L942.3,111.3 L941.6,111.6 L941.0,112.0 L940.4,112.5 L940.0,113.1 L939.6,113.8 L939.3,114.5 L939.1,115.3 L939.1,116.1 L939.1,116.2 L938.5,115.8 L937.9,115.5 L937.2,115.3 L936.5,115.3 L935.8,115.3 L935.1,115.5 L934.4,115.8 L933.8,116.2 L933.3,116.7 L932.8,117.3 L932.4,118.0 L932.1,118.7 L932.0,119.4 L931.9,120.2 L932.0,121.0 L932.1,121.7 L932.4,122.4 L932.8,123.1 L933.3,123.7 L933.8,124.2 L934.4,124.6 L935.1,124.9 L935.8,125.1 L936.5,125.1 L937.2,125.1 L937.9,124.9 L938.5,124.6 L939.1,124.2 L939.7,123.7 L939.7,123.7 L939.7,124.5 L941.8,125.4 L949.1,125.4 L949.7,125.4 L950.3,125.3 L950.9,125.2 L951.5,124.9 L952.0,124.6 L952.5,124.1 L952.9,123.6 L953.2,123.0 L953.5,122.4 L953.6,121.7 L953.7,121.0 L953.6,120.4 L953.5,119.7 L953.2,119.1 L952.9,118.5 L952.5,118.0 L952.0,117.5 L951.5,117.2 L950.9,116.9 L950.3,116.7 L949.7,116.7 L949.1,116.7 L948.4,116.9 L948.3,117.0 L948.3,116.9 L948.3,116.1 L948.3,115.3Z" fill="#ffffff" stroke="#2e4d6e" stroke-width="1.5" stroke-linejoin="round"/>
<path d="M945.68,121.05 A4.00,4.36 0 0 1 949.54,116.69" fill="none" stroke="#2e4d6e" stroke-width="1.5" stroke-linecap="round"/>
<path d="M973.60,101.27 A12.3,12.3 0 1 0 973.60,125.73 A17.9,17.9 0 0 1 973.60,101.27 Z" fill="#fff" stroke="#111" stroke-width="1.6" stroke-linejoin="round"/>
<path d="M981.9,114.8 L981.7,114.1 L981.3,113.5 L980.8,112.9 L980.2,112.5 L979.6,112.1 L978.9,111.8 L978.2,111.6 L977.4,111.5 L976.7,111.6 L976.0,111.8 L975.3,112.1 L974.6,112.5 L974.1,112.9 L973.6,113.5 L973.2,114.1 L972.9,114.8 L972.7,115.6 L972.7,116.3 L972.7,116.4 L972.1,116.1 L971.5,115.8 L970.8,115.6 L970.0,115.5 L969.3,115.6 L968.6,115.8 L967.9,116.1 L967.3,116.4 L966.7,116.9 L966.3,117.5 L965.9,118.1 L965.6,118.8 L965.4,119.5 L965.4,120.2 L965.4,120.9 L965.6,121.6 L965.9,122.3 L966.3,122.9 L966.7,123.5 L967.3,124.0 L967.9,124.3 L968.6,124.6 L969.3,124.8 L970.0,124.9 L970.8,124.8 L971.5,124.6 L972.1,124.3 L972.8,124.0 L973.3,123.5 L973.3,123.5 L973.3,124.3 L975.5,125.0 L982.9,125.0 L983.5,125.1 L984.2,125.0 L984.8,124.9 L985.4,124.7 L985.9,124.3 L986.4,123.9 L986.8,123.4 L987.2,122.9 L987.4,122.3 L987.6,121.6 L987.6,121.0 L987.6,120.4 L987.4,119.7 L987.2,119.1 L986.8,118.6 L986.4,118.1 L985.9,117.7 L985.4,117.3 L984.8,117.1 L984.2,117.0 L983.5,116.9 L982.9,117.0 L982.3,117.1 L982.1,117.2 L982.1,117.0 L982.2,116.3 L982.1,115.6Z" fill="#d4d4d4" stroke="#2e4d6e" stroke-width="1.5" stroke-linejoin="round"/>
<path d="M979.42,121.00 A4.10,4.10 0 0 1 983.38,116.90" fill="none" stroke="#2e4d6e" stroke-width="1.5" stroke-linecap="round"/>
<path d="M1016.27,115.21 L1023.20,116.27 L1023.59,114.41 L1016.83,112.56ZM1012.95,118.22 L1017.10,123.87 L1018.69,122.83 L1015.21,116.75ZM1008.47,117.99 L1007.41,124.92 L1009.26,125.32 L1011.11,118.56ZM1005.46,114.67 L999.81,118.82 L1000.84,120.41 L1006.93,116.94ZM1005.68,110.19 L998.75,109.13 L998.36,110.99 L1005.12,112.84ZM1009.00,107.18 L1004.85,101.53 L1003.26,102.57 L1006.74,108.65ZM1013.48,107.41 L1014.54,100.48 L1012.69,100.08 L1010.84,106.84ZM1016.49,110.73 L1022.14,106.58 L1021.11,104.99 L1015.02,108.46Z" fill="#f5e51c" stroke="#c8bc66" stroke-width="0.6" stroke-linejoin="round"/>
<circle cx="1010.9749999999999" cy="112.7" r="6.20" fill="#f5e51c" stroke="#f2aa25" stroke-width="0.9"/>
<path d="M1007.1,116.8 L1006.8,116.1 L1006.5,115.5 L1006.0,114.9 L1005.5,114.4 L1005.0,114.1 L1004.3,113.8 L1003.7,113.6 L1003.0,113.5 L1002.3,113.6 L1001.7,113.8 L1001.1,114.1 L1000.5,114.4 L1000.0,114.9 L999.5,115.5 L999.2,116.1 L998.9,116.8 L998.8,117.5 L998.7,118.3 L998.7,118.4 L998.7,118.4 L998.1,118.0 L997.5,117.7 L996.9,117.6 L996.2,117.5 L995.6,117.6 L994.9,117.7 L994.3,118.0 L993.8,118.4 L993.3,118.9 L992.8,119.4 L992.5,120.0 L992.2,120.7 L992.1,121.4 L992.0,122.1 L992.1,122.9 L992.2,123.6 L992.5,124.2 L992.8,124.8 L993.3,125.4 L993.8,125.9 L994.3,126.2 L994.9,126.5 L995.6,126.7 L996.2,126.8 L996.9,126.7 L997.5,126.5 L998.1,126.2 L998.7,125.9 L999.2,125.4 L999.3,125.3 L999.3,126.2 L1001.3,127.0 L1008.0,127.0 L1008.6,127.0 L1009.2,126.9 L1009.7,126.8 L1010.3,126.6 L1010.8,126.2 L1011.2,125.8 L1011.6,125.3 L1011.9,124.8 L1012.1,124.2 L1012.3,123.6 L1012.3,122.9 L1012.3,122.3 L1012.1,121.7 L1011.9,121.1 L1011.6,120.5 L1011.2,120.1 L1010.8,119.6 L1010.3,119.3 L1009.7,119.1 L1009.2,118.9 L1008.6,118.9 L1008.0,118.9 L1007.5,119.1 L1007.2,119.2 L1007.2,119.0 L1007.3,118.3 L1007.2,117.5Z" fill="#d4d4d4" stroke="#2563c4" stroke-width="1.5" stroke-linejoin="round"/>
<path d="M1004.91,122.93 A3.69,4.07 0 0 1 1008.47,118.87" fill="none" stroke="#2563c4" stroke-width="1.5" stroke-linecap="round"/>
<path d="M1050.82,115.21 L1057.75,116.27 L1058.14,114.41 L1051.38,112.56ZM1047.50,118.22 L1051.65,123.87 L1053.24,122.83 L1049.76,116.75ZM1043.02,117.99 L1041.96,124.92 L1043.81,125.32 L1045.66,118.56ZM1040.01,114.67 L1034.36,118.82 L1035.39,120.41 L1041.48,116.94ZM1040.23,110.19 L1033.30,109.13 L1032.91,110.99 L1039.67,112.84ZM1043.55,107.18 L1039.40,101.53 L1037.81,102.57 L1041.29,108.65ZM1048.03,107.41 L1049.09,100.48 L1047.24,100.08 L1045.39,106.84ZM1051.04,110.73 L1056.69,106.58 L1055.66,104.99 L1049.57,108.46Z" fill="#f5e51c" stroke="#c8bc66" stroke-width="0.6" stroke-linejoin="round"/>
<circle cx="1045.525" cy="112.7" r="6.20" fill="#f5e51c" stroke="#f2aa25" stroke-width="0.9"/>
<path d="M1041.6,116.8 L1041.4,116.1 L1041.0,115.5 L1040.6,114.9 L1040.1,114.4 L1039.5,114.1 L1038.9,113.8 L1038.2,113.6 L1037.6,113.5 L1036.9,113.6 L1036.2,113.8 L1035.6,114.1 L1035.0,114.4 L1034.5,114.9 L1034.1,115.5 L1033.7,116.1 L1033.5,116.8 L1033.3,117.5 L1033.3,118.3 L1033.3,118.4 L1033.2,118.4 L1032.7,118.0 L1032.1,117.7 L1031.4,117.6 L1030.8,117.5 L1030.1,117.6 L1029.5,117.7 L1028.9,118.0 L1028.3,118.4 L1027.8,118.9 L1027.4,119.4 L1027.0,120.0 L1026.8,120.7 L1026.6,121.4 L1026.6,122.1 L1026.6,122.9 L1026.8,123.6 L1027.0,124.2 L1027.4,124.8 L1027.8,125.4 L1028.3,125.9 L1028.9,126.2 L1029.5,126.5 L1030.1,126.7 L1030.8,126.8 L1031.4,126.7 L1032.1,126.5 L1032.7,126.2 L1033.2,125.9 L1033.8,125.4 L1033.8,125.3 L1033.8,126.2 L1035.8,127.0 L1042.6,127.0 L1043.2,127.0 L1043.7,126.9 L1044.3,126.8 L1044.8,126.6 L1045.3,126.2 L1045.8,125.8 L1046.1,125.3 L1046.4,124.8 L1046.7,124.2 L1046.8,123.6 L1046.8,122.9 L1046.8,122.3 L1046.7,121.7 L1046.4,121.1 L1046.1,120.5 L1045.8,120.1 L1045.3,119.6 L1044.8,119.3 L1044.3,119.1 L1043.7,118.9 L1043.2,118.9 L1042.6,118.9 L1042.0,119.1 L1041.8,119.2 L1041.8,119.0 L1041.9,118.3 L1041.8,117.5Z" fill="#d4d4d4" stroke="#2563c4" stroke-width="1.5" stroke-linejoin="round"/>
<path d="M1039.46,122.93 A3.69,4.07 0 0 1 1043.02,118.87" fill="none" stroke="#2563c4" stroke-width="1.5" stroke-linecap="round"/>
<path d="M1077.25,101.27 A12.3,12.3 0 1 0 1077.25,125.73 A17.9,17.9 0 0 1 1077.25,101.27 Z" fill="#fff" stroke="#111" stroke-width="1.6" stroke-linejoin="round"/>
<path d="M1085.6,114.8 L1085.3,114.1 L1084.9,113.5 L1084.4,112.9 L1083.9,112.5 L1083.2,112.1 L1082.5,111.8 L1081.8,111.6 L1081.1,111.5 L1080.3,111.6 L1079.6,111.8 L1078.9,112.1 L1078.3,112.5 L1077.7,112.9 L1077.2,113.5 L1076.8,114.1 L1076.6,114.8 L1076.4,115.6 L1076.3,116.3 L1076.3,116.4 L1075.8,116.1 L1075.1,115.8 L1074.4,115.6 L1073.7,115.5 L1072.9,115.6 L1072.2,115.8 L1071.6,116.1 L1070.9,116.4 L1070.4,116.9 L1069.9,117.5 L1069.5,118.1 L1069.3,118.8 L1069.1,119.5 L1069.0,120.2 L1069.1,120.9 L1069.3,121.6 L1069.5,122.3 L1069.9,122.9 L1070.4,123.5 L1070.9,124.0 L1071.6,124.3 L1072.2,124.6 L1072.9,124.8 L1073.7,124.9 L1074.4,124.8 L1075.1,124.6 L1075.8,124.3 L1076.4,124.0 L1077.0,123.5 L1077.0,123.5 L1077.0,124.3 L1079.2,125.0 L1086.5,125.0 L1087.2,125.1 L1087.8,125.0 L1088.4,124.9 L1089.0,124.7 L1089.6,124.3 L1090.1,123.9 L1090.5,123.4 L1090.8,122.9 L1091.1,122.3 L1091.2,121.6 L1091.3,121.0 L1091.2,120.4 L1091.1,119.7 L1090.8,119.1 L1090.5,118.6 L1090.1,118.1 L1089.6,117.7 L1089.0,117.3 L1088.4,117.1 L1087.8,117.0 L1087.2,116.9 L1086.5,117.0 L1085.9,117.1 L1085.7,117.2 L1085.8,117.0 L1085.8,116.3 L1085.8,115.6Z" fill="#d4d4d4" stroke="#2e4d6e" stroke-width="1.5" stroke-linejoin="round"/>
<path d="M1083.08,121.00 A4.10,4.10 0 0 1 1087.03,116.90" fill="none" stroke="#2e4d6e" stroke-width="1.5" stroke-linecap="round"/>
</g>
<g id="wind">
<circle cx="127.30" cy="152.9" r="3.45" fill="none" stroke="#000" stroke-width="1.8"/>
<circle cx="144.57" cy="152.9" r="3.45" fill="none" stroke="#000" stroke-width="1.8"/>
<circle cx="161.85" cy="152.9" r="3.45" fill="none" stroke="#000" stroke-width="1.8"/>
<circle cx="179.12" cy="152.9" r="3.45" fill="none" stroke="#000" stroke-width="1.8"/>
<circle cx="196.40" cy="152.9" r="3.45" fill="none" stroke="#000" stroke-width="1.8"/>
<circle cx="213.68" cy="152.9" r="3.45" fill="none" stroke="#000" stroke-width="1.8"/>
<circle cx="230.95" cy="152.9" r="3.45" fill="none" stroke="#000" stroke-width="1.8"/>
<circle cx="248.22" cy="152.9" r="3.45" fill="none" stroke="#000" stroke-width="1.8"/>
<circle cx="265.50" cy="152.9" r="3.45" fill="none" stroke="#000" stroke-width="1.8"/>
<circle cx="282.77" cy="152.9" r="3.45" fill="none" stroke="#000" stroke-width="1.8"/>
<circle cx="300.05" cy="152.9" r="3.45" fill="none" stroke="#000" stroke-width="1.8"/>
<circle cx="317.32" cy="152.9" r="3.45" fill="none" stroke="#000" stroke-width="1.8"/>
<circle cx="334.60" cy="152.9" r="3.45" fill="none" stroke="#000" stroke-width="1.8"/>
<circle cx="351.88" cy="152.9" r="3.45" fill="none" stroke="#000" stroke-width="1.8"/>
<circle cx="369.15" cy="152.9" r="3.45" fill="none" stroke="#000" stroke-width="1.8"/>
<circle cx="403.70" cy="152.9" r="3.45" fill="none" stroke="#000" stroke-width="1.8"/>
<circle cx="420.97" cy="152.9" r="3.45" fill="none" stroke="#000" stroke-width="1.8"/>
<circle cx="438.25" cy="152.9" r="3.45" fill="none" stroke="#000" stroke-width="1.8"/>
<circle cx="455.52" cy="152.9" r="3.45" fill="none" stroke="#000" stroke-width="1.8"/>
<circle cx="472.80" cy="152.9" r="3.45" fill="none" stroke="#000" stroke-width="1.8"/>
<circle cx="490.07" cy="152.9" r="3.45" fill="none" stroke="#000" stroke-width="1.8"/>
<circle cx="507.35" cy="152.9" r="3.45" fill="none" stroke="#000" stroke-width="1.8"/>
<circle cx="524.62" cy="152.9" r="3.45" fill="none" stroke="#000" stroke-width="1.8"/>
<circle cx="541.90" cy="152.9" r="3.45" fill="none" stroke="#000" stroke-width="1.8"/>
<circle cx="559.17" cy="152.9" r="3.45" fill="none" stroke="#000" stroke-width="1.8"/>
<circle cx="576.45" cy="152.9" r="3.45" fill="none" stroke="#000" stroke-width="1.8"/>
<circle cx="593.72" cy="152.9" r="3.45" fill="none" stroke="#000" stroke-width="1.8"/>
<circle cx="611.00" cy="152.9" r="3.45" fill="none" stroke="#000" stroke-width="1.8"/>
<circle cx="645.55" cy="152.9" r="3.45" fill="none" stroke="#000" stroke-width="1.8"/>
<circle cx="662.82" cy="152.9" r="3.45" fill="none" stroke="#000" stroke-width="1.8"/>
<circle cx="680.10" cy="152.9" r="3.45" fill="none" stroke="#000" stroke-width="1.8"/>
<circle cx="697.37" cy="152.9" r="3.45" fill="none" stroke="#000" stroke-width="1.8"/>
<circle cx="714.65" cy="152.9" r="3.45" fill="none" stroke="#000" stroke-width="1.8"/>
<circle cx="731.92" cy="152.9" r="3.45" fill="none" stroke="#000" stroke-width="1.8"/>
<circle cx="749.20" cy="152.9" r="3.45" fill="none" stroke="#000" stroke-width="1.8"/>
<circle cx="766.47" cy="152.9" r="3.45" fill="none" stroke="#000" stroke-width="1.8"/>
<circle cx="783.75" cy="152.9" r="3.45" fill="none" stroke="#000" stroke-width="1.8"/>
<circle cx="801.02" cy="152.9" r="3.45" fill="none" stroke="#000" stroke-width="1.8"/>
<circle cx="852.85" cy="152.9" r="3.45" fill="none" stroke="#000" stroke-width="1.8"/>
<circle cx="921.95" cy="152.9" r="3.45" fill="none" stroke="#000" stroke-width="1.8"/>
<circle cx="939.22" cy="152.9" r="3.45" fill="none" stroke="#000" stroke-width="1.8"/>
<circle cx="956.50" cy="152.9" r="3.45" fill="none" stroke="#000" stroke-width="1.8"/>
<circle cx="973.77" cy="152.9" r="3.45" fill="none" stroke="#000" stroke-width="1.8"/>
<circle cx="991.05" cy="152.9" r="3.45" fill="none" stroke="#000" stroke-width="1.8"/>
<circle cx="1008.32" cy="152.9" r="3.45" fill="none" stroke="#000" stroke-width="1.8"/>
<circle cx="1025.60" cy="152.9" r="3.45" fill="none" stroke="#000" stroke-width="1.8"/>
<circle cx="1042.88" cy="152.9" r="3.45" fill="none" stroke="#000" stroke-width="1.8"/>
<circle cx="1060.15" cy="152.9" r="3.45" fill="none" stroke="#000" stroke-width="1.8"/>
<circle cx="1077.42" cy="152.9" r="3.45" fill="none" stroke="#000" stroke-width="1.8"/>
<circle cx="1094.70" cy="152.9" r="3.45" fill="none" stroke="#000" stroke-width="1.8"/>
<path d="M382.2,164.7 L389.6,141.2 M387.6,145.6 L393.7,145.6" stroke="#000" stroke-width="1.9" fill="none" stroke-linecap="round"/>
<path d="M615.2,154.8 L639.2,150.4 M636.3,151.2 L637.7,156.4" stroke="#000" stroke-width="1.9" fill="none" stroke-linecap="round"/>
<path d="M815.1,164.7 L820.8,141.25 M820.0,144.9 L825,144.9" stroke="#000" stroke-width="1.9" fill="none" stroke-linecap="round"/>
<path d="M832.3,165.2 L838.3,141.25 M837.5,144.9 L842.7,144.9" stroke="#000" stroke-width="1.9" fill="none" stroke-linecap="round"/>
<path d="M865.6,164.7 L873.4,141.25 M872.5,145 L877.6,145" stroke="#000" stroke-width="1.9" fill="none" stroke-linecap="round"/>
<path d="M883.3,165.2 L890.1,141.25 M889.2,145 L894.8,145" stroke="#000" stroke-width="1.9" fill="none" stroke-linecap="round"/>
<path d="M909.4,164.2 L899.5,141.5 M900.5,144.9 L905.7,142.5" stroke="#000" stroke-width="1.9" fill="none" stroke-linecap="round"/>
</g>
<g id="axes">
<path d="M127.5,359.5 V97.5 H1094.5 V359.5" fill="none" stroke="#000" stroke-width="1.2"/>
<line x1="126.8" y1="359.5" x2="1095.2" y2="359.5" stroke="#000" stroke-width="1.2"/>
<line x1="128.6" y1="97" x2="128.6" y2="359" stroke="#000" stroke-width="1.1" stroke-dasharray="7 2"/>
<line x1="161.5" y1="349" x2="161.5" y2="359" stroke="#111" stroke-width="1.1"/>
<line x1="196.5" y1="349" x2="196.5" y2="359" stroke="#111" stroke-width="1.1"/>
<line x1="230.5" y1="349" x2="230.5" y2="359" stroke="#111" stroke-width="1.1"/>
<line x1="300.5" y1="349" x2="300.5" y2="359" stroke="#111" stroke-width="1.1"/>
<line x1="334.5" y1="349" x2="334.5" y2="359" stroke="#111" stroke-width="1.1"/>
<line x1="369.5" y1="349" x2="369.5" y2="359" stroke="#111" stroke-width="1.1"/>
<line x1="438.5" y1="349" x2="438.5" y2="359" stroke="#111" stroke-width="1.1"/>
<line x1="472.5" y1="349" x2="472.5" y2="359" stroke="#111" stroke-width="1.1"/>
<line x1="507.5" y1="349" x2="507.5" y2="359" stroke="#111" stroke-width="1.1"/>
<line x1="576.5" y1="349" x2="576.5" y2="359" stroke="#111" stroke-width="1.1"/>
<line x1="610.5" y1="349" x2="610.5" y2="359" stroke="#111" stroke-width="1.1"/>
<line x1="645.5" y1="349" x2="645.5" y2="359" stroke="#111" stroke-width="1.1"/>
<line x1="714.5" y1="349" x2="714.5" y2="359" stroke="#111" stroke-width="1.1"/>
<line x1="749.5" y1="349" x2="749.5" y2="359" stroke="#111" stroke-width="1.1"/>
<line x1="783.5" y1="349" x2="783.5" y2="359" stroke="#111" stroke-width="1.1"/>
<line x1="852.5" y1="349" x2="852.5" y2="359" stroke="#111" stroke-width="1.1"/>
<line x1="887.5" y1="349" x2="887.5" y2="359" stroke="#111" stroke-width="1.1"/>
<line x1="921.5" y1="349" x2="921.5" y2="359" stroke="#111" stroke-width="1.1"/>
<line x1="991.5" y1="349" x2="991.5" y2="359" stroke="#111" stroke-width="1.1"/>
<line x1="1025.5" y1="349" x2="1025.5" y2="359" stroke="#111" stroke-width="1.1"/>
<line x1="1060.5" y1="349" x2="1060.5" y2="359" stroke="#111" stroke-width="1.1"/>
<text transform="translate(160.8,377.2) scale(1.05,1)" text-anchor="middle" class="dj">06</text>
<text transform="translate(195.4,377.2) scale(1.05,1)" text-anchor="middle" class="dj">12</text>
<text transform="translate(229.9,377.2) scale(1.05,1)" text-anchor="middle" class="dj">18</text>
<text transform="translate(299.1,377.2) scale(1.05,1)" text-anchor="middle" class="dj">06</text>
<text transform="translate(333.6,377.2) scale(1.05,1)" text-anchor="middle" class="dj">12</text>
<text transform="translate(368.1,377.2) scale(1.05,1)" text-anchor="middle" class="dj">18</text>
<text transform="translate(265.0,377.2) scale(1.05,1)" text-anchor="middle" class="dj">čet</text>
<text transform="translate(437.2,377.2) scale(1.05,1)" text-anchor="middle" class="dj">06</text>
<text transform="translate(471.8,377.2) scale(1.05,1)" text-anchor="middle" class="dj">12</text>
<text transform="translate(506.3,377.2) scale(1.05,1)" text-anchor="middle" class="dj">18</text>
<text transform="translate(403.2,377.2) scale(1.05,1)" text-anchor="middle" class="dj">pet</text>
<text transform="translate(575.4,377.2) scale(1.05,1)" text-anchor="middle" class="dj">06</text>
<text transform="translate(610.0,377.2) scale(1.05,1)" text-anchor="middle" class="dj">12</text>
<text transform="translate(644.5,377.2) scale(1.05,1)" text-anchor="middle" class="dj">18</text>
<text transform="translate(541.4,377.2) scale(1.05,1)" text-anchor="middle" class="dj">sob</text>
<text transform="translate(713.6,377.2) scale(1.05,1)" text-anchor="middle" class="dj">06</text>
<text transform="translate(748.2,377.2) scale(1.05,1)" text-anchor="middle" class="dj">12</text>
<text transform="translate(782.7,377.2) scale(1.05,1)" text-anchor="middle" class="dj">18</text>
<text transform="translate(679.6,377.2) scale(1.05,1)" text-anchor="middle" class="dj">ned</text>
<text transform="translate(851.8,377.2) scale(1.05,1)" text-anchor="middle" class="dj">06</text>
<text transform="translate(886.4,377.2) scale(1.05,1)" text-anchor="middle" class="dj">12</text>
<text transform="translate(920.9,377.2) scale(1.05,1)" text-anchor="middle" class="dj">18</text>
<text transform="translate(817.8,377.2) scale(1.05,1)" text-anchor="middle" class="dj">pon</text>
<text transform="translate(990.0,377.2) scale(1.05,1)" text-anchor="middle" class="dj">06</text>
<text transform="translate(1024.6,377.2) scale(1.05,1)" text-anchor="middle" class="dj">12</text>
<text transform="translate(1059.1,377.2) scale(1.05,1)" text-anchor="middle" class="dj">18</text>
<text transform="translate(956.0,377.2) scale(1.05,1)" text-anchor="middle" class="dj">tor</text>
<text transform="translate(196.4,69.1) scale(1.05,1)" text-anchor="middle" class="dj">sreda</text>
<text transform="translate(195.2,89.7) scale(1.05,1)" text-anchor="middle" class="dj">05.11</text>
<text transform="translate(334.6,69.1) scale(1.05,1)" text-anchor="middle" class="dj">četrtek</text>
<text transform="translate(333.4,89.7) scale(1.05,1)" text-anchor="middle" class="dj">06.11</text>
<text transform="translate(472.8,69.1) scale(1.05,1)" text-anchor="middle" class="dj">petek</text>
<text transform="translate(471.6,89.7) scale(1.05,1)" text-anchor="middle" class="dj">07.11</text>
<text transform="translate(611.0,69.1) scale(1.05,1)" text-anchor="middle" class="dj" fill="#cc0000">sobota</text>
<text transform="translate(609.8,89.7) scale(1.05,1)" text-anchor="middle" class="dj" fill="#cc0000">08.11</text>
<text transform="translate(749.2,69.1) scale(1.05,1)" text-anchor="middle" class="dj" fill="#cc0000">nedelja</text>
<text transform="translate(748.0,89.7) scale(1.05,1)" text-anchor="middle" class="dj" fill="#cc0000">09.11</text>
<text transform="translate(887.4,69.1) scale(1.05,1)" text-anchor="middle" class="dj">ponedeljek</text>
<text transform="translate(886.2,89.7) scale(1.05,1)" text-anchor="middle" class="dj">10.11</text>
<text transform="translate(1025.6,69.1) scale(1.05,1)" text-anchor="middle" class="dj">torek</text>
<text transform="translate(1024.4,89.7) scale(1.05,1)" text-anchor="middle" class="dj">11.11</text>
<text transform="translate(123.3,365.6) scale(1.05,1)" text-anchor="end" class="dj">0</text>
<text transform="translate(123.3,328.3) scale(1.05,1)" text-anchor="end" class="dj">1</text>
<text transform="translate(123.3,291.1) scale(1.05,1)" text-anchor="end" class="dj">2</text>
<text transform="translate(123.3,253.8) scale(1.05,1)" text-anchor="end" class="dj">3</text>
<text transform="translate(123.3,216.5) scale(1.05,1)" text-anchor="end" class="dj">4</text>
<text transform="translate(123.3,179.2) scale(1.05,1)" text-anchor="end" class="dj">5</text>
<text transform="translate(46.8,365.6) scale(1.05,1)" class="dj" fill="#ff0000">0</text>
<text transform="translate(46.8,328.3) scale(1.05,1)" class="dj" fill="#ff0000">4</text>
<text transform="translate(46.8,291.1) scale(1.05,1)" class="dj" fill="#ff0000">7</text>
<text transform="translate(46.8,253.8) scale(1.05,1)" class="dj" fill="#ff0000">11</text>
<text transform="translate(46.8,216.5) scale(1.05,1)" class="dj" fill="#ff0000">14</text>
<text transform="translate(46.8,179.2) scale(1.05,1)" class="dj" fill="#ff0000">18</text>
<text transform="translate(1098.4,365.5) scale(1.05,1)" class="dj">0</text>
<text transform="translate(1098.4,325.8) scale(1.05,1)" class="dj">1.5</text>
<text transform="translate(1098.4,290.9) scale(1.05,1)" class="dj">3.5</text>
<text transform="translate(1098.4,253.4) scale(1.05,1)" class="dj">6.0</text>
<text transform="translate(1098.4,215.4) scale(1.05,1)" class="dj">9.0</text>
<text transform="translate(1098.4,178.7) scale(1.05,1)" class="dj">14</text>
<text transform="translate(35.3,349.6) rotate(-90)" class="ls" font-size="20.5" fill="#ff0000" textLength="165" lengthAdjust="spacingAndGlyphs">Temperatura (°C)</text>
<text transform="translate(100.3,345.2) rotate(-90)" class="ls" font-size="20.5" textLength="163.3" lengthAdjust="spacingAndGlyphs">Padavine (mm/h)</text>
<text transform="translate(1145.2,348.4) rotate(-90)" class="ls" font-size="20.5" textLength="188" lengthAdjust="spacingAndGlyphs">Višina oblakov (km)</text>
</g>
<g id="legend">
<rect x="126.7" y="390.2" width="32.5" height="10.6" fill="#0050ff"/>
<rect x="164.7" y="386.2" width="105.5" height="19.2" fill="#fff"/>
<text x="169.6" y="401.6" class="ls" font-size="19" textLength="34.6" lengthAdjust="spacingAndGlyphs">Dež</text>
<rect x="277.8" y="390.2" width="32" height="10.6" fill="#10d8c8"/>
<rect x="309.8" y="386.2" width="110.2" height="19.1" fill="#fff"/>
<text x="319.2" y="401.5" class="ls" font-size="19" textLength="114.5" lengthAdjust="spacingAndGlyphs">Možnost ploh</text>
<text x="499.3" y="401.7" class="ls" font-size="16" fill="#0000ff" textLength="171.5" lengthAdjust="spacingAndGlyphs">© vreme.us &amp; vreme.pro</text>
<rect x="759.4" y="386" width="180.6" height="19.6" fill="#fff"/>
<text x="759.8" y="401.5" class="ls" font-size="19" textLength="175" lengthAdjust="spacingAndGlyphs">Gostota oblakov (%)</text>
<rect x="949.2" y="385.2" width="28.9" height="13.5" fill="#d3d3d3"/>
<rect x="978.1" y="385.2" width="29.0" height="13.5" fill="#b0b0b0"/>
<rect x="1007.1" y="385.2" width="29.1" height="13.5" fill="#939393"/>
<rect x="1036.2" y="385.2" width="28.9" height="13.5" fill="#767676"/>
<rect x="1065.1" y="385.2" width="29.9" height="13.5" fill="#575757"/>
<rect x="949.7" y="385.7" width="144.8" height="12.5" fill="none" stroke="#222" stroke-width="1"/>
<text transform="translate(949.2,415.0) scale(1.05,1)" text-anchor="middle" class="dj" style="font-size:15.5px">10</text>
<text transform="translate(978.1,415.0) scale(1.05,1)" text-anchor="middle" class="dj" style="font-size:15.5px">25</text>
<text transform="translate(1007.1,415.0) scale(1.05,1)" text-anchor="middle" class="dj" style="font-size:15.5px">50</text>
<text transform="translate(1036.2,415.0) scale(1.05,1)" text-anchor="middle" class="dj" style="font-size:15.5px">75</text>
<text transform="translate(1065.1,415.0) scale(1.05,1)" text-anchor="middle" class="dj" style="font-size:15.5px">90</text>
<text transform="translate(1095.0,415.0) scale(1.05,1)" text-anchor="middle" class="dj" style="font-size:15.5px">100</text>
</g>
<g id="top">
<text x="10" y="21.6" class="ls" font-size="16" fill="#0000ff">(kraj lahko izberete v meniju)</text>
<text x="399.3" y="37" class="ls" font-size="24" fill="#0000ff">Zagreb 7 dni</text>
<text x="1142.3" y="22.3" text-anchor="end" class="ls" font-size="16" fill="#0000ff">Zadnja posodobitev: 05.11.2025 - 00:09</text>
</g>
</svg>
</body></html>
